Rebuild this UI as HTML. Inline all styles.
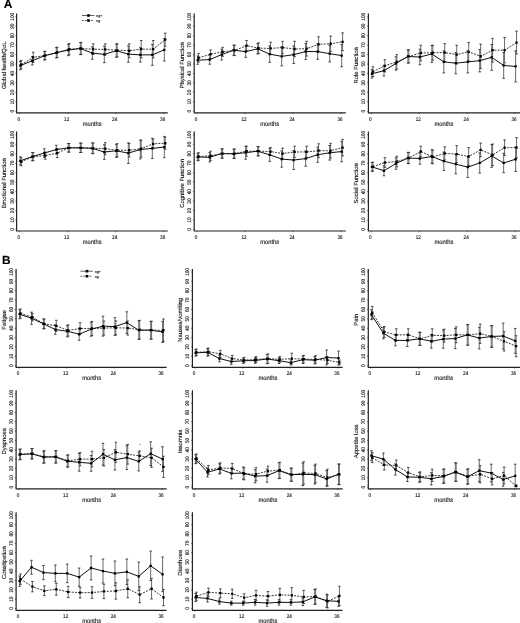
<!DOCTYPE html>
<html><head><meta charset="utf-8"><title>Figure</title>
<style>
html,body{margin:0;padding:0;background:#fff;}
body{width:520px;height:623px;overflow:hidden;}
svg{display:block;will-change:transform;}
text{font-family:"Liberation Sans", sans-serif;fill:#111;text-rendering:geometricPrecision;stroke:#111;stroke-width:0.12px;}
</style></head>
<body>
<svg width="520" height="623" viewBox="0 0 520 623">
<rect width="520" height="623" fill="#fff"/>
<path d="M16.6 13.4V112.9H167.8" fill="none" stroke="#222" stroke-width="1.2"/>
<path d="M15.3 111.2h1.3M15.3 101.76h1.3M15.3 92.32h1.3M15.3 82.88h1.3M15.3 73.44h1.3M15.3 64h1.3M15.3 54.56h1.3M15.3 45.12h1.3M15.3 35.68h1.3M15.3 26.24h1.3M15.3 16.8h1.3M19.7 112.9v1.2M67.7 112.9v1.2M115.7 112.9v1.2M163.7 112.9v1.2" stroke="#222" stroke-width="0.6"/>
<text transform="translate(13.5 111.2) rotate(-90) scale(0.86 1)" text-anchor="middle" font-size="5.4">0</text>
<text transform="translate(13.5 101.76) rotate(-90) scale(0.86 1)" text-anchor="middle" font-size="5.4">10</text>
<text transform="translate(13.5 92.32) rotate(-90) scale(0.86 1)" text-anchor="middle" font-size="5.4">20</text>
<text transform="translate(13.5 82.88) rotate(-90) scale(0.86 1)" text-anchor="middle" font-size="5.4">30</text>
<text transform="translate(13.5 73.44) rotate(-90) scale(0.86 1)" text-anchor="middle" font-size="5.4">40</text>
<text transform="translate(13.5 64) rotate(-90) scale(0.86 1)" text-anchor="middle" font-size="5.4">50</text>
<text transform="translate(13.5 54.56) rotate(-90) scale(0.86 1)" text-anchor="middle" font-size="5.4">60</text>
<text transform="translate(13.5 45.12) rotate(-90) scale(0.86 1)" text-anchor="middle" font-size="5.4">70</text>
<text transform="translate(13.5 35.68) rotate(-90) scale(0.86 1)" text-anchor="middle" font-size="5.4">80</text>
<text transform="translate(13.5 26.24) rotate(-90) scale(0.86 1)" text-anchor="middle" font-size="5.4">90</text>
<text transform="translate(13.5 16.8) rotate(-90) scale(0.86 1)" text-anchor="middle" font-size="5.4">100</text>
<text transform="translate(18.7 120.9) scale(0.86 1)" text-anchor="middle" font-size="5.4">0</text>
<text transform="translate(66.7 120.9) scale(0.86 1)" text-anchor="middle" font-size="5.4">12</text>
<text transform="translate(114.7 120.9) scale(0.86 1)" text-anchor="middle" font-size="5.4">24</text>
<text transform="translate(162.7 120.9) scale(0.86 1)" text-anchor="middle" font-size="5.4">36</text>
<text transform="translate(92.1 125.7) scale(0.9 1)" text-anchor="middle" font-size="6.4">months</text>
<text transform="translate(6.4 65.3) rotate(-90)" text-anchor="middle" font-size="5.9">Global health/QoL</text>
<path d="M20.3 61.51V69.73M21.2 60.48V68.71M32.3 56.55V64.97M33.2 52.25V62.53M44.3 51.59V60.01M45.2 51.22V59.64M56.3 47.67V57.95M57.2 47.2V57.49M68.3 44.4V55.62M69.2 43.55V54.77M80.3 42.43V54.59M81.2 42.43V54.59M92.3 46.92V59.26M93.2 43.83V54.49M104.3 46.17V62.63M105.2 43.83V55.05M116.3 44.21V57.3M117.2 43.74V56.83M128.3 45.98V62.25M129.2 43.83V57.67M140.3 47.67V62.07M141.2 40.56V57.77M152.3 44.4V65.34M153.2 40.56V57.77M164.3 38.6V61.04M165.2 33.18V46.27" stroke="#6a6a6a" stroke-width="1.0" fill="none"/>
<path d="M19.05 61.51h2.5M19.05 69.73h2.5M19.95 60.48h2.5M19.95 68.71h2.5M31.05 56.55h2.5M31.05 64.97h2.5M31.95 52.25h2.5M31.95 62.53h2.5M43.05 51.59h2.5M43.05 60.01h2.5M43.95 51.22h2.5M43.95 59.64h2.5M55.05 47.67h2.5M55.05 57.95h2.5M55.95 47.2h2.5M55.95 57.49h2.5M67.05 44.4h2.5M67.05 55.62h2.5M67.95 43.55h2.5M67.95 54.77h2.5M79.05 42.43h2.5M79.05 54.59h2.5M79.95 42.43h2.5M79.95 54.59h2.5M91.05 46.92h2.5M91.05 59.26h2.5M91.95 43.83h2.5M91.95 54.49h2.5M103.05 46.17h2.5M103.05 62.63h2.5M103.95 43.83h2.5M103.95 55.05h2.5M115.05 44.21h2.5M115.05 57.3h2.5M115.95 43.74h2.5M115.95 56.83h2.5M127.05 45.98h2.5M127.05 62.25h2.5M127.95 43.83h2.5M127.95 57.67h2.5M139.05 47.67h2.5M139.05 62.07h2.5M139.95 40.56h2.5M139.95 57.77h2.5M151.05 44.4h2.5M151.05 65.34h2.5M151.95 40.56h2.5M151.95 57.77h2.5M163.05 38.6h2.5M163.05 61.04h2.5M163.95 33.18h2.5M163.95 46.27h2.5" stroke="#333" stroke-width="0.9" fill="none"/>
<path d="M21.2 64.59L33.2 57.39L45.2 55.43L57.2 52.34L69.2 49.16L81.2 48.51L93.2 49.16L105.2 49.44L117.2 50.29L129.2 50.75L141.2 49.16L153.2 49.16L165.2 39.72" fill="none" stroke="#222" stroke-width="0.9" stroke-dasharray="2,1.2"/>
<path d="M20.3 65.62L32.3 60.76L44.3 55.8L56.3 52.81L68.3 50.01L80.3 48.51L92.3 53.09L104.3 54.4L116.3 50.75L128.3 54.12L140.3 54.87L152.3 54.87L164.3 49.82" fill="none" stroke="#111" stroke-width="1.0"/>
<path d="M19.15 64.47h2.3v2.3h-2.3zM20.05 63.44h2.3v2.3h-2.3zM31.15 59.61h2.3v2.3h-2.3zM32.05 56.24h2.3v2.3h-2.3zM43.15 54.65h2.3v2.3h-2.3zM44.05 54.28h2.3v2.3h-2.3zM55.15 51.66h2.3v2.3h-2.3zM56.05 51.19h2.3v2.3h-2.3zM67.15 48.86h2.3v2.3h-2.3zM68.05 48.01h2.3v2.3h-2.3zM79.15 47.36h2.3v2.3h-2.3zM80.05 47.36h2.3v2.3h-2.3zM91.15 51.94h2.3v2.3h-2.3zM92.05 48.01h2.3v2.3h-2.3zM103.15 53.25h2.3v2.3h-2.3zM104.05 48.29h2.3v2.3h-2.3zM115.15 49.6h2.3v2.3h-2.3zM116.05 49.14h2.3v2.3h-2.3zM127.15 52.97h2.3v2.3h-2.3zM128.05 49.6h2.3v2.3h-2.3zM139.15 53.72h2.3v2.3h-2.3zM140.05 48.01h2.3v2.3h-2.3zM151.15 53.72h2.3v2.3h-2.3zM152.05 48.01h2.3v2.3h-2.3zM163.15 48.67h2.3v2.3h-2.3zM164.05 38.57h2.3v2.3h-2.3z" fill="#000"/>
<path d="M194.2 13.4V112.9H345.8" fill="none" stroke="#222" stroke-width="1.2"/>
<path d="M192.9 111.2h1.3M192.9 101.76h1.3M192.9 92.32h1.3M192.9 82.88h1.3M192.9 73.44h1.3M192.9 64h1.3M192.9 54.56h1.3M192.9 45.12h1.3M192.9 35.68h1.3M192.9 26.24h1.3M192.9 16.8h1.3M197.1 112.9v1.2M245.1 112.9v1.2M293.1 112.9v1.2M341.1 112.9v1.2" stroke="#222" stroke-width="0.6"/>
<text transform="translate(191.1 111.2) rotate(-90) scale(0.86 1)" text-anchor="middle" font-size="5.4">0</text>
<text transform="translate(191.1 101.76) rotate(-90) scale(0.86 1)" text-anchor="middle" font-size="5.4">10</text>
<text transform="translate(191.1 92.32) rotate(-90) scale(0.86 1)" text-anchor="middle" font-size="5.4">20</text>
<text transform="translate(191.1 82.88) rotate(-90) scale(0.86 1)" text-anchor="middle" font-size="5.4">30</text>
<text transform="translate(191.1 73.44) rotate(-90) scale(0.86 1)" text-anchor="middle" font-size="5.4">40</text>
<text transform="translate(191.1 64) rotate(-90) scale(0.86 1)" text-anchor="middle" font-size="5.4">50</text>
<text transform="translate(191.1 54.56) rotate(-90) scale(0.86 1)" text-anchor="middle" font-size="5.4">60</text>
<text transform="translate(191.1 45.12) rotate(-90) scale(0.86 1)" text-anchor="middle" font-size="5.4">70</text>
<text transform="translate(191.1 35.68) rotate(-90) scale(0.86 1)" text-anchor="middle" font-size="5.4">80</text>
<text transform="translate(191.1 26.24) rotate(-90) scale(0.86 1)" text-anchor="middle" font-size="5.4">90</text>
<text transform="translate(191.1 16.8) rotate(-90) scale(0.86 1)" text-anchor="middle" font-size="5.4">100</text>
<text transform="translate(196.1 120.9) scale(0.86 1)" text-anchor="middle" font-size="5.4">0</text>
<text transform="translate(244.1 120.9) scale(0.86 1)" text-anchor="middle" font-size="5.4">12</text>
<text transform="translate(292.1 120.9) scale(0.86 1)" text-anchor="middle" font-size="5.4">24</text>
<text transform="translate(340.1 120.9) scale(0.86 1)" text-anchor="middle" font-size="5.4">36</text>
<text transform="translate(269.7 125.7) scale(0.9 1)" text-anchor="middle" font-size="6.4">months</text>
<text transform="translate(184 65.3) rotate(-90)" text-anchor="middle" font-size="5.9">Physical Function</text>
<path d="M197.7 55.99V64.22M198.6 53.46V62.07M209.7 55.05V64.22M210.6 49.91V58.51M221.7 49.16V60.01M222.6 47.29V56.27M233.7 45.05V55.33M234.6 45.33V55.62M245.7 45.8V57.39M246.6 40.47V50.75M257.7 43.55V54.03M258.6 42.9V53.37M269.7 45.89V62.35M270.6 42.24V54.59M281.7 46.83V65.9M282.6 41.31V53.84M293.7 45.89V63.47M294.6 41.31V56.64M305.7 43.65V59.36M306.6 41.31V56.08M317.7 43.83V59.36M318.6 36.82V51.78M329.7 45.42V61.88M330.6 36.07V51.41M341.7 44.49V66.74M342.6 32.89V50.66" stroke="#6a6a6a" stroke-width="1.0" fill="none"/>
<path d="M196.45 55.99h2.5M196.45 64.22h2.5M197.35 53.46h2.5M197.35 62.07h2.5M208.45 55.05h2.5M208.45 64.22h2.5M209.35 49.91h2.5M209.35 58.51h2.5M220.45 49.16h2.5M220.45 60.01h2.5M221.35 47.29h2.5M221.35 56.27h2.5M232.45 45.05h2.5M232.45 55.33h2.5M233.35 45.33h2.5M233.35 55.62h2.5M244.45 45.8h2.5M244.45 57.39h2.5M245.35 40.47h2.5M245.35 50.75h2.5M256.45 43.55h2.5M256.45 54.03h2.5M257.35 42.9h2.5M257.35 53.37h2.5M268.45 45.89h2.5M268.45 62.35h2.5M269.35 42.24h2.5M269.35 54.59h2.5M280.45 46.83h2.5M280.45 65.9h2.5M281.35 41.31h2.5M281.35 53.84h2.5M292.45 45.89h2.5M292.45 63.47h2.5M293.35 41.31h2.5M293.35 56.64h2.5M304.45 43.65h2.5M304.45 59.36h2.5M305.35 41.31h2.5M305.35 56.08h2.5M316.45 43.83h2.5M316.45 59.36h2.5M317.35 36.82h2.5M317.35 51.78h2.5M328.45 45.42h2.5M328.45 61.88h2.5M329.35 36.07h2.5M329.35 51.41h2.5M340.45 44.49h2.5M340.45 66.74h2.5M341.35 32.89h2.5M341.35 50.66h2.5" stroke="#333" stroke-width="0.9" fill="none"/>
<path d="M198.6 57.77L210.6 54.21L222.6 51.78L234.6 50.47L246.6 45.61L258.6 48.14L270.6 48.42L282.6 47.57L294.6 48.98L306.6 48.7L318.6 44.3L330.6 43.74L342.6 41.78" fill="none" stroke="#222" stroke-width="0.9" stroke-dasharray="2,1.2"/>
<path d="M197.7 60.1L209.7 59.64L221.7 54.59L233.7 50.19L245.7 51.59L257.7 48.79L269.7 54.12L281.7 56.36L293.7 54.68L305.7 51.5L317.7 51.59L329.7 53.65L341.7 55.62" fill="none" stroke="#111" stroke-width="1.0"/>
<path d="M196.55 58.95h2.3v2.3h-2.3zM197.45 56.62h2.3v2.3h-2.3zM208.55 58.49h2.3v2.3h-2.3zM209.45 53.06h2.3v2.3h-2.3zM220.55 53.44h2.3v2.3h-2.3zM221.45 50.63h2.3v2.3h-2.3zM232.55 49.04h2.3v2.3h-2.3zM233.45 49.32h2.3v2.3h-2.3zM244.55 50.45h2.3v2.3h-2.3zM245.45 44.46h2.3v2.3h-2.3zM256.55 47.64h2.3v2.3h-2.3zM257.45 46.99h2.3v2.3h-2.3zM268.55 52.97h2.3v2.3h-2.3zM269.45 47.27h2.3v2.3h-2.3zM280.55 55.21h2.3v2.3h-2.3zM281.45 46.42h2.3v2.3h-2.3zM292.55 53.53h2.3v2.3h-2.3zM293.45 47.83h2.3v2.3h-2.3zM304.55 50.35h2.3v2.3h-2.3zM305.45 47.55h2.3v2.3h-2.3zM316.55 50.45h2.3v2.3h-2.3zM317.45 43.15h2.3v2.3h-2.3zM328.55 52.5h2.3v2.3h-2.3zM329.45 42.59h2.3v2.3h-2.3zM340.55 54.47h2.3v2.3h-2.3zM341.45 40.63h2.3v2.3h-2.3z" fill="#000"/>
<path d="M368.4 13.4V112.9H522" fill="none" stroke="#222" stroke-width="1.2"/>
<path d="M367.1 111.2h1.3M367.1 101.76h1.3M367.1 92.32h1.3M367.1 82.88h1.3M367.1 73.44h1.3M367.1 64h1.3M367.1 54.56h1.3M367.1 45.12h1.3M367.1 35.68h1.3M367.1 26.24h1.3M367.1 16.8h1.3M371.4 112.9v1.2M419.28 112.9v1.2M467.16 112.9v1.2M515.04 112.9v1.2" stroke="#222" stroke-width="0.6"/>
<text transform="translate(365.3 111.2) rotate(-90) scale(0.86 1)" text-anchor="middle" font-size="5.4">0</text>
<text transform="translate(365.3 101.76) rotate(-90) scale(0.86 1)" text-anchor="middle" font-size="5.4">10</text>
<text transform="translate(365.3 92.32) rotate(-90) scale(0.86 1)" text-anchor="middle" font-size="5.4">20</text>
<text transform="translate(365.3 82.88) rotate(-90) scale(0.86 1)" text-anchor="middle" font-size="5.4">30</text>
<text transform="translate(365.3 73.44) rotate(-90) scale(0.86 1)" text-anchor="middle" font-size="5.4">40</text>
<text transform="translate(365.3 64) rotate(-90) scale(0.86 1)" text-anchor="middle" font-size="5.4">50</text>
<text transform="translate(365.3 54.56) rotate(-90) scale(0.86 1)" text-anchor="middle" font-size="5.4">60</text>
<text transform="translate(365.3 45.12) rotate(-90) scale(0.86 1)" text-anchor="middle" font-size="5.4">70</text>
<text transform="translate(365.3 35.68) rotate(-90) scale(0.86 1)" text-anchor="middle" font-size="5.4">80</text>
<text transform="translate(365.3 26.24) rotate(-90) scale(0.86 1)" text-anchor="middle" font-size="5.4">90</text>
<text transform="translate(365.3 16.8) rotate(-90) scale(0.86 1)" text-anchor="middle" font-size="5.4">100</text>
<text transform="translate(370.4 120.9) scale(0.86 1)" text-anchor="middle" font-size="5.4">0</text>
<text transform="translate(418.28 120.9) scale(0.86 1)" text-anchor="middle" font-size="5.4">12</text>
<text transform="translate(466.16 120.9) scale(0.86 1)" text-anchor="middle" font-size="5.4">24</text>
<text transform="translate(514.04 120.9) scale(0.86 1)" text-anchor="middle" font-size="5.4">36</text>
<text transform="translate(443.9 125.7) scale(0.9 1)" text-anchor="middle" font-size="6.4">months</text>
<text transform="translate(358.2 65.3) rotate(-90)" text-anchor="middle" font-size="5.9">Role Function</text>
<path d="M372 69.55V77.96M372.9 66.84V76.56M383.97 65.34V76M384.87 59.73V71.88M395.94 56.83V70.11M396.84 54.68V69.08M407.91 49.91V63M408.81 49.91V63M419.88 49.26V64.78M420.78 45.24V60.76M431.85 45.52V62.35M432.75 45.24V60.2M443.82 50.85V72.91M444.72 43.65V61.41M455.79 52.62V73.75M456.69 45.24V63.94M467.76 50.85V72.91M468.66 42.43V61.13M479.73 49.44V71.88M480.63 44.11V68.42M491.7 44.49V70.29M492.6 38.32V62.07M503.67 52.53V78.34M504.57 37.48V62.91M515.64 50.94V81.98M516.54 31.12V53.93" stroke="#6a6a6a" stroke-width="1.0" fill="none"/>
<path d="M370.75 69.55h2.5M370.75 77.96h2.5M371.65 66.84h2.5M371.65 76.56h2.5M382.72 65.34h2.5M382.72 76h2.5M383.62 59.73h2.5M383.62 71.88h2.5M394.69 56.83h2.5M394.69 70.11h2.5M395.59 54.68h2.5M395.59 69.08h2.5M406.66 49.91h2.5M406.66 63h2.5M407.56 49.91h2.5M407.56 63h2.5M418.63 49.26h2.5M418.63 64.78h2.5M419.53 45.24h2.5M419.53 60.76h2.5M430.6 45.52h2.5M430.6 62.35h2.5M431.5 45.24h2.5M431.5 60.2h2.5M442.57 50.85h2.5M442.57 72.91h2.5M443.47 43.65h2.5M443.47 61.41h2.5M454.54 52.62h2.5M454.54 73.75h2.5M455.44 45.24h2.5M455.44 63.94h2.5M466.51 50.85h2.5M466.51 72.91h2.5M467.41 42.43h2.5M467.41 61.13h2.5M478.48 49.44h2.5M478.48 71.88h2.5M479.38 44.11h2.5M479.38 68.42h2.5M490.45 44.49h2.5M490.45 70.29h2.5M491.35 38.32h2.5M491.35 62.07h2.5M502.42 52.53h2.5M502.42 78.34h2.5M503.32 37.48h2.5M503.32 62.91h2.5M514.39 50.94h2.5M514.39 81.98h2.5M515.29 31.12h2.5M515.29 53.93h2.5" stroke="#333" stroke-width="0.9" fill="none"/>
<path d="M372.9 71.7L384.87 65.81L396.84 61.88L408.81 56.46L420.78 53L432.75 52.72L444.72 52.53L456.69 54.59L468.66 51.78L480.63 56.27L492.6 50.19L504.57 50.19L516.54 42.53" fill="none" stroke="#222" stroke-width="0.9" stroke-dasharray="2,1.2"/>
<path d="M372 73.75L383.97 70.67L395.94 63.47L407.91 56.46L419.88 57.02L431.85 53.93L443.82 61.88L455.79 63.19L467.76 61.88L479.73 60.66L491.7 57.39L503.67 65.43L515.64 66.46" fill="none" stroke="#111" stroke-width="1.0"/>
<path d="M370.85 72.6h2.3v2.3h-2.3zM371.75 70.55h2.3v2.3h-2.3zM382.82 69.52h2.3v2.3h-2.3zM383.72 64.66h2.3v2.3h-2.3zM394.79 62.32h2.3v2.3h-2.3zM395.69 60.73h2.3v2.3h-2.3zM406.76 55.31h2.3v2.3h-2.3zM407.66 55.31h2.3v2.3h-2.3zM418.73 55.87h2.3v2.3h-2.3zM419.63 51.85h2.3v2.3h-2.3zM430.7 52.78h2.3v2.3h-2.3zM431.6 51.57h2.3v2.3h-2.3zM442.67 60.73h2.3v2.3h-2.3zM443.57 51.38h2.3v2.3h-2.3zM454.64 62.04h2.3v2.3h-2.3zM455.54 53.44h2.3v2.3h-2.3zM466.61 60.73h2.3v2.3h-2.3zM467.51 50.63h2.3v2.3h-2.3zM478.58 59.51h2.3v2.3h-2.3zM479.48 55.12h2.3v2.3h-2.3zM490.55 56.24h2.3v2.3h-2.3zM491.45 49.04h2.3v2.3h-2.3zM502.52 64.28h2.3v2.3h-2.3zM503.42 49.04h2.3v2.3h-2.3zM514.49 65.31h2.3v2.3h-2.3zM515.39 41.38h2.3v2.3h-2.3z" fill="#000"/>
<path d="M16.6 131.5V231H167.8" fill="none" stroke="#222" stroke-width="1.2"/>
<path d="M15.3 229.5h1.3M15.3 220.04h1.3M15.3 210.58h1.3M15.3 201.12h1.3M15.3 191.66h1.3M15.3 182.2h1.3M15.3 172.74h1.3M15.3 163.28h1.3M15.3 153.82h1.3M15.3 144.36h1.3M15.3 134.9h1.3M19.7 231v1.2M67.7 231v1.2M115.7 231v1.2M163.7 231v1.2" stroke="#222" stroke-width="0.6"/>
<text transform="translate(13.5 229.5) rotate(-90) scale(0.86 1)" text-anchor="middle" font-size="5.4">0</text>
<text transform="translate(13.5 220.04) rotate(-90) scale(0.86 1)" text-anchor="middle" font-size="5.4">10</text>
<text transform="translate(13.5 210.58) rotate(-90) scale(0.86 1)" text-anchor="middle" font-size="5.4">20</text>
<text transform="translate(13.5 201.12) rotate(-90) scale(0.86 1)" text-anchor="middle" font-size="5.4">30</text>
<text transform="translate(13.5 191.66) rotate(-90) scale(0.86 1)" text-anchor="middle" font-size="5.4">40</text>
<text transform="translate(13.5 182.2) rotate(-90) scale(0.86 1)" text-anchor="middle" font-size="5.4">50</text>
<text transform="translate(13.5 172.74) rotate(-90) scale(0.86 1)" text-anchor="middle" font-size="5.4">60</text>
<text transform="translate(13.5 163.28) rotate(-90) scale(0.86 1)" text-anchor="middle" font-size="5.4">70</text>
<text transform="translate(13.5 153.82) rotate(-90) scale(0.86 1)" text-anchor="middle" font-size="5.4">80</text>
<text transform="translate(13.5 144.36) rotate(-90) scale(0.86 1)" text-anchor="middle" font-size="5.4">90</text>
<text transform="translate(13.5 134.9) rotate(-90) scale(0.86 1)" text-anchor="middle" font-size="5.4">100</text>
<text transform="translate(18.7 239) scale(0.86 1)" text-anchor="middle" font-size="5.4">0</text>
<text transform="translate(66.7 239) scale(0.86 1)" text-anchor="middle" font-size="5.4">12</text>
<text transform="translate(114.7 239) scale(0.86 1)" text-anchor="middle" font-size="5.4">24</text>
<text transform="translate(162.7 239) scale(0.86 1)" text-anchor="middle" font-size="5.4">36</text>
<text transform="translate(92.1 243.8) scale(0.9 1)" text-anchor="middle" font-size="6.4">months</text>
<text transform="translate(6.4 183.4) rotate(-90)" text-anchor="middle" font-size="5.9">Emotional Function</text>
<path d="M20.3 156.8V164.84M21.2 157.73V165.77M32.3 152.5V160.73M33.2 152.5V160.73M44.3 148.76V157.36M45.2 151.94V159.23M56.3 145.3V153.9M57.2 148.48V157.64M68.3 143.52V152.12M69.2 143.52V152.12M80.3 143.15V152.5M81.2 143.15V152.5M92.3 142.96V153.62M93.2 142.96V153.62M104.3 144.74V159.32M105.2 142.68V154.65M116.3 144.27V157.36M117.2 143.71V156.8M128.3 142.87V163.44M129.2 143.52V156.99M140.3 140.16V158.86M141.2 140.25V157.08M152.3 138.29V158.48M153.2 138.94V148.66M164.3 136.42V157.73M165.2 137.26V149.22" stroke="#6a6a6a" stroke-width="1.0" fill="none"/>
<path d="M19.05 156.8h2.5M19.05 164.84h2.5M19.95 157.73h2.5M19.95 165.77h2.5M31.05 152.5h2.5M31.05 160.73h2.5M31.95 152.5h2.5M31.95 160.73h2.5M43.05 148.76h2.5M43.05 157.36h2.5M43.95 151.94h2.5M43.95 159.23h2.5M55.05 145.3h2.5M55.05 153.9h2.5M55.95 148.48h2.5M55.95 157.64h2.5M67.05 143.52h2.5M67.05 152.12h2.5M67.95 143.52h2.5M67.95 152.12h2.5M79.05 143.15h2.5M79.05 152.5h2.5M79.95 143.15h2.5M79.95 152.5h2.5M91.05 142.96h2.5M91.05 153.62h2.5M91.95 142.96h2.5M91.95 153.62h2.5M103.05 144.74h2.5M103.05 159.32h2.5M103.95 142.68h2.5M103.95 154.65h2.5M115.05 144.27h2.5M115.05 157.36h2.5M115.95 143.71h2.5M115.95 156.8h2.5M127.05 142.87h2.5M127.05 163.44h2.5M127.95 143.52h2.5M127.95 156.99h2.5M139.05 140.16h2.5M139.05 158.86h2.5M139.95 140.25h2.5M139.95 157.08h2.5M151.05 138.29h2.5M151.05 158.48h2.5M151.95 138.94h2.5M151.95 148.66h2.5M163.05 136.42h2.5M163.05 157.73h2.5M163.95 137.26h2.5M163.95 149.22h2.5" stroke="#333" stroke-width="0.9" fill="none"/>
<path d="M21.2 161.75L33.2 156.61L45.2 155.58L57.2 153.06L69.2 147.82L81.2 147.82L93.2 148.29L105.2 148.66L117.2 150.25L129.2 150.25L141.2 148.66L153.2 143.8L165.2 143.24" fill="none" stroke="#222" stroke-width="0.9" stroke-dasharray="2,1.2"/>
<path d="M20.3 160.82L32.3 156.61L44.3 153.06L56.3 149.6L68.3 147.82L80.3 147.82L92.3 148.29L104.3 152.03L116.3 150.81L128.3 153.15L140.3 149.51L152.3 148.38L164.3 147.07" fill="none" stroke="#111" stroke-width="1.0"/>
<path d="M19.15 159.67h2.3v2.3h-2.3zM20.05 160.6h2.3v2.3h-2.3zM31.15 155.46h2.3v2.3h-2.3zM32.05 155.46h2.3v2.3h-2.3zM43.15 151.91h2.3v2.3h-2.3zM44.05 154.43h2.3v2.3h-2.3zM55.15 148.45h2.3v2.3h-2.3zM56.05 151.91h2.3v2.3h-2.3zM67.15 146.67h2.3v2.3h-2.3zM68.05 146.67h2.3v2.3h-2.3zM79.15 146.67h2.3v2.3h-2.3zM80.05 146.67h2.3v2.3h-2.3zM91.15 147.14h2.3v2.3h-2.3zM92.05 147.14h2.3v2.3h-2.3zM103.15 150.88h2.3v2.3h-2.3zM104.05 147.51h2.3v2.3h-2.3zM115.15 149.66h2.3v2.3h-2.3zM116.05 149.1h2.3v2.3h-2.3zM127.15 152h2.3v2.3h-2.3zM128.05 149.1h2.3v2.3h-2.3zM139.15 148.36h2.3v2.3h-2.3zM140.05 147.51h2.3v2.3h-2.3zM151.15 147.23h2.3v2.3h-2.3zM152.05 142.65h2.3v2.3h-2.3zM163.15 145.92h2.3v2.3h-2.3zM164.05 142.09h2.3v2.3h-2.3z" fill="#000"/>
<path d="M194.2 131.5V231H345.8" fill="none" stroke="#222" stroke-width="1.2"/>
<path d="M192.9 229.5h1.3M192.9 220.04h1.3M192.9 210.58h1.3M192.9 201.12h1.3M192.9 191.66h1.3M192.9 182.2h1.3M192.9 172.74h1.3M192.9 163.28h1.3M192.9 153.82h1.3M192.9 144.36h1.3M192.9 134.9h1.3M197.1 231v1.2M245.1 231v1.2M293.1 231v1.2M341.1 231v1.2" stroke="#222" stroke-width="0.6"/>
<text transform="translate(191.1 229.5) rotate(-90) scale(0.86 1)" text-anchor="middle" font-size="5.4">0</text>
<text transform="translate(191.1 220.04) rotate(-90) scale(0.86 1)" text-anchor="middle" font-size="5.4">10</text>
<text transform="translate(191.1 210.58) rotate(-90) scale(0.86 1)" text-anchor="middle" font-size="5.4">20</text>
<text transform="translate(191.1 201.12) rotate(-90) scale(0.86 1)" text-anchor="middle" font-size="5.4">30</text>
<text transform="translate(191.1 191.66) rotate(-90) scale(0.86 1)" text-anchor="middle" font-size="5.4">40</text>
<text transform="translate(191.1 182.2) rotate(-90) scale(0.86 1)" text-anchor="middle" font-size="5.4">50</text>
<text transform="translate(191.1 172.74) rotate(-90) scale(0.86 1)" text-anchor="middle" font-size="5.4">60</text>
<text transform="translate(191.1 163.28) rotate(-90) scale(0.86 1)" text-anchor="middle" font-size="5.4">70</text>
<text transform="translate(191.1 153.82) rotate(-90) scale(0.86 1)" text-anchor="middle" font-size="5.4">80</text>
<text transform="translate(191.1 144.36) rotate(-90) scale(0.86 1)" text-anchor="middle" font-size="5.4">90</text>
<text transform="translate(191.1 134.9) rotate(-90) scale(0.86 1)" text-anchor="middle" font-size="5.4">100</text>
<text transform="translate(196.1 239) scale(0.86 1)" text-anchor="middle" font-size="5.4">0</text>
<text transform="translate(244.1 239) scale(0.86 1)" text-anchor="middle" font-size="5.4">12</text>
<text transform="translate(292.1 239) scale(0.86 1)" text-anchor="middle" font-size="5.4">24</text>
<text transform="translate(340.1 239) scale(0.86 1)" text-anchor="middle" font-size="5.4">36</text>
<text transform="translate(269.7 243.8) scale(0.9 1)" text-anchor="middle" font-size="6.4">months</text>
<text transform="translate(184 183.4) rotate(-90)" text-anchor="middle" font-size="5.9">Cognitive Function</text>
<path d="M197.7 153.25V160.73M198.6 152.78V160.26M209.7 152.59V161.94M210.6 151.19V160.35M221.7 148.85V158.2M222.6 148.85V158.2M233.7 149.22V158.57M234.6 148.85V158.2M245.7 146.14V159.23M246.6 146.23V156.14M257.7 146.51V155.86M258.6 146.51V155.86M269.7 148.29V161.38M270.6 147.64V155.49M281.7 150.91V167.18M282.6 148.2V158.86M293.7 150.63V169.51M294.6 146.23V157.64M305.7 150.91V166.24M306.6 146.23V157.64M317.7 147.17V162.31M318.6 143.8V157.64M329.7 145.48V160.07M330.6 143.33V158.11M341.7 141.37V161.75M342.6 139.41V155.86" stroke="#6a6a6a" stroke-width="1.0" fill="none"/>
<path d="M196.45 153.25h2.5M196.45 160.73h2.5M197.35 152.78h2.5M197.35 160.26h2.5M208.45 152.59h2.5M208.45 161.94h2.5M209.35 151.19h2.5M209.35 160.35h2.5M220.45 148.85h2.5M220.45 158.2h2.5M221.35 148.85h2.5M221.35 158.2h2.5M232.45 149.22h2.5M232.45 158.57h2.5M233.35 148.85h2.5M233.35 158.2h2.5M244.45 146.14h2.5M244.45 159.23h2.5M245.35 146.23h2.5M245.35 156.14h2.5M256.45 146.51h2.5M256.45 155.86h2.5M257.35 146.51h2.5M257.35 155.86h2.5M268.45 148.29h2.5M268.45 161.38h2.5M269.35 147.64h2.5M269.35 155.49h2.5M280.45 150.91h2.5M280.45 167.18h2.5M281.35 148.2h2.5M281.35 158.86h2.5M292.45 150.63h2.5M292.45 169.51h2.5M293.35 146.23h2.5M293.35 157.64h2.5M304.45 150.91h2.5M304.45 166.24h2.5M305.35 146.23h2.5M305.35 157.64h2.5M316.45 147.17h2.5M316.45 162.31h2.5M317.35 143.8h2.5M317.35 157.64h2.5M328.45 145.48h2.5M328.45 160.07h2.5M329.35 143.33h2.5M329.35 158.11h2.5M340.45 141.37h2.5M340.45 161.75h2.5M341.35 139.41h2.5M341.35 155.86h2.5" stroke="#333" stroke-width="0.9" fill="none"/>
<path d="M198.6 156.52L210.6 155.77L222.6 153.53L234.6 153.53L246.6 151.19L258.6 151.19L270.6 151.56L282.6 153.53L294.6 151.94L306.6 151.94L318.6 150.72L330.6 150.72L342.6 147.64" fill="none" stroke="#222" stroke-width="0.9" stroke-dasharray="2,1.2"/>
<path d="M197.7 156.99L209.7 157.27L221.7 153.53L233.7 153.9L245.7 152.68L257.7 151.19L269.7 154.83L281.7 159.04L293.7 160.07L305.7 158.57L317.7 154.74L329.7 152.78L341.7 151.56" fill="none" stroke="#111" stroke-width="1.0"/>
<path d="M196.55 155.84h2.3v2.3h-2.3zM197.45 155.37h2.3v2.3h-2.3zM208.55 156.12h2.3v2.3h-2.3zM209.45 154.62h2.3v2.3h-2.3zM220.55 152.38h2.3v2.3h-2.3zM221.45 152.38h2.3v2.3h-2.3zM232.55 152.75h2.3v2.3h-2.3zM233.45 152.38h2.3v2.3h-2.3zM244.55 151.53h2.3v2.3h-2.3zM245.45 150.04h2.3v2.3h-2.3zM256.55 150.04h2.3v2.3h-2.3zM257.45 150.04h2.3v2.3h-2.3zM268.55 153.68h2.3v2.3h-2.3zM269.45 150.41h2.3v2.3h-2.3zM280.55 157.89h2.3v2.3h-2.3zM281.45 152.38h2.3v2.3h-2.3zM292.55 158.92h2.3v2.3h-2.3zM293.45 150.79h2.3v2.3h-2.3zM304.55 157.42h2.3v2.3h-2.3zM305.45 150.79h2.3v2.3h-2.3zM316.55 153.59h2.3v2.3h-2.3zM317.45 149.57h2.3v2.3h-2.3zM328.55 151.63h2.3v2.3h-2.3zM329.45 149.57h2.3v2.3h-2.3zM340.55 150.41h2.3v2.3h-2.3zM341.45 146.49h2.3v2.3h-2.3z" fill="#000"/>
<path d="M368.4 131.5V231H522" fill="none" stroke="#222" stroke-width="1.2"/>
<path d="M367.1 229.5h1.3M367.1 220.04h1.3M367.1 210.58h1.3M367.1 201.12h1.3M367.1 191.66h1.3M367.1 182.2h1.3M367.1 172.74h1.3M367.1 163.28h1.3M367.1 153.82h1.3M367.1 144.36h1.3M367.1 134.9h1.3M371.4 231v1.2M419.28 231v1.2M467.16 231v1.2M515.04 231v1.2" stroke="#222" stroke-width="0.6"/>
<text transform="translate(365.3 229.5) rotate(-90) scale(0.86 1)" text-anchor="middle" font-size="5.4">0</text>
<text transform="translate(365.3 220.04) rotate(-90) scale(0.86 1)" text-anchor="middle" font-size="5.4">10</text>
<text transform="translate(365.3 210.58) rotate(-90) scale(0.86 1)" text-anchor="middle" font-size="5.4">20</text>
<text transform="translate(365.3 201.12) rotate(-90) scale(0.86 1)" text-anchor="middle" font-size="5.4">30</text>
<text transform="translate(365.3 191.66) rotate(-90) scale(0.86 1)" text-anchor="middle" font-size="5.4">40</text>
<text transform="translate(365.3 182.2) rotate(-90) scale(0.86 1)" text-anchor="middle" font-size="5.4">50</text>
<text transform="translate(365.3 172.74) rotate(-90) scale(0.86 1)" text-anchor="middle" font-size="5.4">60</text>
<text transform="translate(365.3 163.28) rotate(-90) scale(0.86 1)" text-anchor="middle" font-size="5.4">70</text>
<text transform="translate(365.3 153.82) rotate(-90) scale(0.86 1)" text-anchor="middle" font-size="5.4">80</text>
<text transform="translate(365.3 144.36) rotate(-90) scale(0.86 1)" text-anchor="middle" font-size="5.4">90</text>
<text transform="translate(365.3 134.9) rotate(-90) scale(0.86 1)" text-anchor="middle" font-size="5.4">100</text>
<text transform="translate(370.4 239) scale(0.86 1)" text-anchor="middle" font-size="5.4">0</text>
<text transform="translate(418.28 239) scale(0.86 1)" text-anchor="middle" font-size="5.4">12</text>
<text transform="translate(466.16 239) scale(0.86 1)" text-anchor="middle" font-size="5.4">24</text>
<text transform="translate(514.04 239) scale(0.86 1)" text-anchor="middle" font-size="5.4">36</text>
<text transform="translate(443.9 243.8) scale(0.9 1)" text-anchor="middle" font-size="6.4">months</text>
<text transform="translate(358.2 183.4) rotate(-90)" text-anchor="middle" font-size="5.9">Social Function</text>
<path d="M372 162.5V171.29M372.9 162.22V171.01M383.97 165.68V175.78M384.87 157.73V167.46M395.94 157.83V169.23M396.84 156.24V166.9M407.91 152.4V163.62M408.81 152.4V163.62M419.88 152.78V164.19M420.78 146.23V156.7M431.85 149.69V163.34M432.75 150.07V163.72M443.82 152.03V170.36M444.72 146.89V159.98M455.79 154.55V173.82M456.69 145.67V162.5M467.76 156.7V177.46M468.66 147.64V165.4M479.73 152.87V173.07M480.63 143.05V156.7M491.7 144.64V167.27M492.6 144.08V165.59M503.67 153.25V172.69M504.57 139.88V155.4M515.64 146.98V171.48M516.54 137.63V157.64" stroke="#6a6a6a" stroke-width="1.0" fill="none"/>
<path d="M370.75 162.5h2.5M370.75 171.29h2.5M371.65 162.22h2.5M371.65 171.01h2.5M382.72 165.68h2.5M382.72 175.78h2.5M383.62 157.73h2.5M383.62 167.46h2.5M394.69 157.83h2.5M394.69 169.23h2.5M395.59 156.24h2.5M395.59 166.9h2.5M406.66 152.4h2.5M406.66 163.62h2.5M407.56 152.4h2.5M407.56 163.62h2.5M418.63 152.78h2.5M418.63 164.19h2.5M419.53 146.23h2.5M419.53 156.7h2.5M430.6 149.69h2.5M430.6 163.34h2.5M431.5 150.07h2.5M431.5 163.72h2.5M442.57 152.03h2.5M442.57 170.36h2.5M443.47 146.89h2.5M443.47 159.98h2.5M454.54 154.55h2.5M454.54 173.82h2.5M455.44 145.67h2.5M455.44 162.5h2.5M466.51 156.7h2.5M466.51 177.46h2.5M467.41 147.64h2.5M467.41 165.4h2.5M478.48 152.87h2.5M478.48 173.07h2.5M479.38 143.05h2.5M479.38 156.7h2.5M490.45 144.64h2.5M490.45 167.27h2.5M491.35 144.08h2.5M491.35 165.59h2.5M502.42 153.25h2.5M502.42 172.69h2.5M503.32 139.88h2.5M503.32 155.4h2.5M514.39 146.98h2.5M514.39 171.48h2.5M515.29 137.63h2.5M515.29 157.64h2.5" stroke="#333" stroke-width="0.9" fill="none"/>
<path d="M372.9 166.62L384.87 162.6L396.84 161.57L408.81 158.01L420.78 151.47L432.75 156.89L444.72 153.43L456.69 154.09L468.66 156.52L480.63 149.88L492.6 154.83L504.57 147.64L516.54 147.64" fill="none" stroke="#222" stroke-width="0.9" stroke-dasharray="2,1.2"/>
<path d="M372 166.9L383.97 170.73L395.94 163.53L407.91 158.01L419.88 158.48L431.85 156.52L443.82 161.19L455.79 164.19L467.76 167.08L479.73 162.97L491.7 155.96L503.67 162.97L515.64 159.23" fill="none" stroke="#111" stroke-width="1.0"/>
<path d="M370.85 165.75h2.3v2.3h-2.3zM371.75 165.47h2.3v2.3h-2.3zM382.82 169.58h2.3v2.3h-2.3zM383.72 161.45h2.3v2.3h-2.3zM394.79 162.38h2.3v2.3h-2.3zM395.69 160.42h2.3v2.3h-2.3zM406.76 156.86h2.3v2.3h-2.3zM407.66 156.86h2.3v2.3h-2.3zM418.73 157.33h2.3v2.3h-2.3zM419.63 150.32h2.3v2.3h-2.3zM430.7 155.37h2.3v2.3h-2.3zM431.6 155.74h2.3v2.3h-2.3zM442.67 160.04h2.3v2.3h-2.3zM443.57 152.28h2.3v2.3h-2.3zM454.64 163.03h2.3v2.3h-2.3zM455.54 152.94h2.3v2.3h-2.3zM466.61 165.93h2.3v2.3h-2.3zM467.51 155.37h2.3v2.3h-2.3zM478.58 161.82h2.3v2.3h-2.3zM479.48 148.73h2.3v2.3h-2.3zM490.55 154.81h2.3v2.3h-2.3zM491.45 153.68h2.3v2.3h-2.3zM502.52 161.82h2.3v2.3h-2.3zM503.42 146.49h2.3v2.3h-2.3zM514.49 158.08h2.3v2.3h-2.3zM515.39 146.49h2.3v2.3h-2.3z" fill="#000"/>
<path d="M16.1 269V367.4H166.6" fill="none" stroke="#222" stroke-width="1.2"/>
<path d="M14.8 365.8h1.3M14.8 356.42h1.3M14.8 347.04h1.3M14.8 337.66h1.3M14.8 328.28h1.3M14.8 318.9h1.3M14.8 309.52h1.3M14.8 300.14h1.3M14.8 290.76h1.3M14.8 281.38h1.3M14.8 272h1.3M19 367.4v1.2M66.66 367.4v1.2M114.33 367.4v1.2M161.99 367.4v1.2" stroke="#222" stroke-width="0.6"/>
<text transform="translate(13 365.8) rotate(-90) scale(0.86 1)" text-anchor="middle" font-size="5.4">0</text>
<text transform="translate(13 356.42) rotate(-90) scale(0.86 1)" text-anchor="middle" font-size="5.4">10</text>
<text transform="translate(13 347.04) rotate(-90) scale(0.86 1)" text-anchor="middle" font-size="5.4">20</text>
<text transform="translate(13 337.66) rotate(-90) scale(0.86 1)" text-anchor="middle" font-size="5.4">30</text>
<text transform="translate(13 328.28) rotate(-90) scale(0.86 1)" text-anchor="middle" font-size="5.4">40</text>
<text transform="translate(13 318.9) rotate(-90) scale(0.86 1)" text-anchor="middle" font-size="5.4">50</text>
<text transform="translate(13 309.52) rotate(-90) scale(0.86 1)" text-anchor="middle" font-size="5.4">60</text>
<text transform="translate(13 300.14) rotate(-90) scale(0.86 1)" text-anchor="middle" font-size="5.4">70</text>
<text transform="translate(13 290.76) rotate(-90) scale(0.86 1)" text-anchor="middle" font-size="5.4">80</text>
<text transform="translate(13 281.38) rotate(-90) scale(0.86 1)" text-anchor="middle" font-size="5.4">90</text>
<text transform="translate(13 272) rotate(-90) scale(0.86 1)" text-anchor="middle" font-size="5.4">100</text>
<text transform="translate(18 375.4) scale(0.86 1)" text-anchor="middle" font-size="5.4">0</text>
<text transform="translate(65.66 375.4) scale(0.86 1)" text-anchor="middle" font-size="5.4">12</text>
<text transform="translate(113.33 375.4) scale(0.86 1)" text-anchor="middle" font-size="5.4">24</text>
<text transform="translate(160.99 375.4) scale(0.86 1)" text-anchor="middle" font-size="5.4">36</text>
<text transform="translate(91.6 380.2) scale(0.9 1)" text-anchor="middle" font-size="6.4">months</text>
<text transform="translate(5.9 319.8) rotate(-90)" text-anchor="middle" font-size="5.9">Fatigue</text>
<path d="M19.6 309.73V318.71M20.5 308.99V317.96M31.52 312.17V324.32M32.42 313.47V320.95M43.43 318.99V328.72M44.33 318.99V328.72M55.35 324.88V334.23M56.25 320.3V331.33M67.26 325.63V336.85M68.16 324.88V336.1M79.18 328.15V340.31M80.08 322.82V334.23M91.1 322.17V336.2M92 321.42V335.45M103.01 316.28V336.1M103.91 321.05V335.07M114.93 317.68V335.45M115.83 320.86V334.7M126.84 311.79V333.48M127.74 321.05V335.07M138.76 320.86V339.56M139.66 320.39V339.09M150.68 321.33V339.09M151.58 321.33V339.09M162.59 321.33V342.46M163.49 318.99V341.43" stroke="#6a6a6a" stroke-width="1.0" fill="none"/>
<path d="M18.35 309.73h2.5M18.35 318.71h2.5M19.25 308.99h2.5M19.25 317.96h2.5M30.27 312.17h2.5M30.27 324.32h2.5M31.17 313.47h2.5M31.17 320.95h2.5M42.18 318.99h2.5M42.18 328.72h2.5M43.08 318.99h2.5M43.08 328.72h2.5M54.1 324.88h2.5M54.1 334.23h2.5M55 320.3h2.5M55 331.33h2.5M66.01 325.63h2.5M66.01 336.85h2.5M66.91 324.88h2.5M66.91 336.1h2.5M77.93 328.15h2.5M77.93 340.31h2.5M78.83 322.82h2.5M78.83 334.23h2.5M89.85 322.17h2.5M89.85 336.2h2.5M90.75 321.42h2.5M90.75 335.45h2.5M101.76 316.28h2.5M101.76 336.1h2.5M102.66 321.05h2.5M102.66 335.07h2.5M113.68 317.68h2.5M113.68 335.45h2.5M114.58 320.86h2.5M114.58 334.7h2.5M125.59 311.79h2.5M125.59 333.48h2.5M126.49 321.05h2.5M126.49 335.07h2.5M137.51 320.86h2.5M137.51 339.56h2.5M138.41 320.39h2.5M138.41 339.09h2.5M149.43 321.33h2.5M149.43 339.09h2.5M150.33 321.33h2.5M150.33 339.09h2.5M161.34 321.33h2.5M161.34 342.46h2.5M162.24 318.99h2.5M162.24 341.43h2.5" stroke="#333" stroke-width="0.9" fill="none"/>
<path d="M20.5 313.47L32.42 317.21L44.33 323.85L56.25 325.82L68.16 330.49L80.08 328.53L92 328.43L103.91 328.06L115.83 327.78L127.74 328.06L139.66 329.74L151.58 330.21L163.49 330.21" fill="none" stroke="#222" stroke-width="0.9" stroke-dasharray="2,1.2"/>
<path d="M19.6 314.22L31.52 318.24L43.43 323.85L55.35 329.56L67.26 331.24L79.18 334.23L91.1 329.18L103.01 326.19L114.93 326.56L126.84 322.64L138.76 330.21L150.68 330.21L162.59 331.89" fill="none" stroke="#111" stroke-width="1.0"/>
<path d="M18.45 313.07h2.3v2.3h-2.3zM19.35 312.32h2.3v2.3h-2.3zM30.37 317.09h2.3v2.3h-2.3zM31.27 316.06h2.3v2.3h-2.3zM42.28 322.7h2.3v2.3h-2.3zM43.18 322.7h2.3v2.3h-2.3zM54.2 328.41h2.3v2.3h-2.3zM55.1 324.67h2.3v2.3h-2.3zM66.11 330.09h2.3v2.3h-2.3zM67.01 329.34h2.3v2.3h-2.3zM78.03 333.08h2.3v2.3h-2.3zM78.93 327.38h2.3v2.3h-2.3zM89.95 328.03h2.3v2.3h-2.3zM90.85 327.28h2.3v2.3h-2.3zM101.86 325.04h2.3v2.3h-2.3zM102.76 326.91h2.3v2.3h-2.3zM113.78 325.42h2.3v2.3h-2.3zM114.68 326.63h2.3v2.3h-2.3zM125.69 321.49h2.3v2.3h-2.3zM126.59 326.91h2.3v2.3h-2.3zM137.61 329.06h2.3v2.3h-2.3zM138.51 328.59h2.3v2.3h-2.3zM149.53 329.06h2.3v2.3h-2.3zM150.43 329.06h2.3v2.3h-2.3zM161.44 330.74h2.3v2.3h-2.3zM162.34 329.06h2.3v2.3h-2.3z" fill="#000"/>
<path d="M192.4 269V367.4H342.6" fill="none" stroke="#222" stroke-width="1.2"/>
<path d="M191.1 365.8h1.3M191.1 356.42h1.3M191.1 347.04h1.3M191.1 337.66h1.3M191.1 328.28h1.3M191.1 318.9h1.3M191.1 309.52h1.3M191.1 300.14h1.3M191.1 290.76h1.3M191.1 281.38h1.3M191.1 272h1.3M195 367.4v1.2M242.64 367.4v1.2M290.28 367.4v1.2M337.92 367.4v1.2" stroke="#222" stroke-width="0.6"/>
<text transform="translate(189.3 365.8) rotate(-90) scale(0.86 1)" text-anchor="middle" font-size="5.4">0</text>
<text transform="translate(189.3 356.42) rotate(-90) scale(0.86 1)" text-anchor="middle" font-size="5.4">10</text>
<text transform="translate(189.3 347.04) rotate(-90) scale(0.86 1)" text-anchor="middle" font-size="5.4">20</text>
<text transform="translate(189.3 337.66) rotate(-90) scale(0.86 1)" text-anchor="middle" font-size="5.4">30</text>
<text transform="translate(189.3 328.28) rotate(-90) scale(0.86 1)" text-anchor="middle" font-size="5.4">40</text>
<text transform="translate(189.3 318.9) rotate(-90) scale(0.86 1)" text-anchor="middle" font-size="5.4">50</text>
<text transform="translate(189.3 309.52) rotate(-90) scale(0.86 1)" text-anchor="middle" font-size="5.4">60</text>
<text transform="translate(189.3 300.14) rotate(-90) scale(0.86 1)" text-anchor="middle" font-size="5.4">70</text>
<text transform="translate(189.3 290.76) rotate(-90) scale(0.86 1)" text-anchor="middle" font-size="5.4">80</text>
<text transform="translate(189.3 281.38) rotate(-90) scale(0.86 1)" text-anchor="middle" font-size="5.4">90</text>
<text transform="translate(189.3 272) rotate(-90) scale(0.86 1)" text-anchor="middle" font-size="5.4">100</text>
<text transform="translate(194 375.4) scale(0.86 1)" text-anchor="middle" font-size="5.4">0</text>
<text transform="translate(241.64 375.4) scale(0.86 1)" text-anchor="middle" font-size="5.4">12</text>
<text transform="translate(289.28 375.4) scale(0.86 1)" text-anchor="middle" font-size="5.4">24</text>
<text transform="translate(336.92 375.4) scale(0.86 1)" text-anchor="middle" font-size="5.4">36</text>
<text transform="translate(267.9 380.2) scale(0.9 1)" text-anchor="middle" font-size="6.4">months</text>
<text transform="translate(182.2 319.8) rotate(-90)" text-anchor="middle" font-size="5.9">Nausea/vomiting</text>
<path d="M195.6 349.57V356.11M196.5 349V355.55M207.51 348.54V356.02M208.41 348.07V355.55M219.42 355.27V361.81M220.32 350.31V357.42M231.33 358.73V364.34M232.23 355.36V361.72M243.24 358.17V363.4M244.14 357.42V362.66M255.15 357.7V363.31M256.05 356.67V362.28M267.06 354.33V363.68M267.96 353.96V363.31M278.97 357.89V363.5M279.87 356.58V362.19M290.88 359.85V364.9M291.78 353.21V364.06M302.79 355.92V363.4M303.69 355.36V362.84M314.7 356.48V363.96M315.6 355.64V363.12M326.61 350.03V364.9M327.51 356.95V363.5M338.52 351.16V364.9M339.42 360.04V364.71" stroke="#6a6a6a" stroke-width="1.0" fill="none"/>
<path d="M194.35 349.57h2.5M194.35 356.11h2.5M195.25 349h2.5M195.25 355.55h2.5M206.26 348.54h2.5M206.26 356.02h2.5M207.16 348.07h2.5M207.16 355.55h2.5M218.17 355.27h2.5M218.17 361.81h2.5M219.07 350.31h2.5M219.07 357.42h2.5M230.08 358.73h2.5M230.08 364.34h2.5M230.98 355.36h2.5M230.98 361.72h2.5M241.99 358.17h2.5M241.99 363.4h2.5M242.89 357.42h2.5M242.89 362.66h2.5M253.9 357.7h2.5M253.9 363.31h2.5M254.8 356.67h2.5M254.8 362.28h2.5M265.81 354.33h2.5M265.81 363.68h2.5M266.71 353.96h2.5M266.71 363.31h2.5M277.72 357.89h2.5M277.72 363.5h2.5M278.62 356.58h2.5M278.62 362.19h2.5M289.63 359.85h2.5M289.63 364.9h2.5M290.53 353.21h2.5M290.53 364.06h2.5M301.54 355.92h2.5M301.54 363.4h2.5M302.44 355.36h2.5M302.44 362.84h2.5M313.45 356.48h2.5M313.45 363.96h2.5M314.35 355.64h2.5M314.35 363.12h2.5M325.36 350.03h2.5M325.36 364.9h2.5M326.26 356.95h2.5M326.26 363.5h2.5M337.27 351.16h2.5M337.27 364.9h2.5M338.17 360.04h2.5M338.17 364.71h2.5" stroke="#333" stroke-width="0.9" fill="none"/>
<path d="M196.5 352.28L208.41 351.81L220.32 353.87L232.23 358.54L244.14 360.04L256.05 359.48L267.96 358.64L279.87 359.38L291.78 358.64L303.69 359.1L315.6 359.38L327.51 360.22L339.42 362.38" fill="none" stroke="#222" stroke-width="0.9" stroke-dasharray="2,1.2"/>
<path d="M195.6 352.84L207.51 352.28L219.42 358.54L231.33 361.53L243.24 360.79L255.15 360.51L267.06 359.01L278.97 360.69L290.88 362.66L302.79 359.66L314.7 360.22L326.61 357.51L338.52 358.07" fill="none" stroke="#111" stroke-width="1.0"/>
<path d="M194.45 351.69h2.3v2.3h-2.3zM195.35 351.13h2.3v2.3h-2.3zM206.36 351.13h2.3v2.3h-2.3zM207.26 350.66h2.3v2.3h-2.3zM218.27 357.39h2.3v2.3h-2.3zM219.17 352.72h2.3v2.3h-2.3zM230.18 360.38h2.3v2.3h-2.3zM231.08 357.39h2.3v2.3h-2.3zM242.09 359.64h2.3v2.3h-2.3zM242.99 358.89h2.3v2.3h-2.3zM254 359.36h2.3v2.3h-2.3zM254.9 358.33h2.3v2.3h-2.3zM265.91 357.86h2.3v2.3h-2.3zM266.81 357.49h2.3v2.3h-2.3zM277.82 359.54h2.3v2.3h-2.3zM278.72 358.23h2.3v2.3h-2.3zM289.73 361.51h2.3v2.3h-2.3zM290.63 357.49h2.3v2.3h-2.3zM301.64 358.51h2.3v2.3h-2.3zM302.54 357.95h2.3v2.3h-2.3zM313.55 359.07h2.3v2.3h-2.3zM314.45 358.23h2.3v2.3h-2.3zM325.46 356.36h2.3v2.3h-2.3zM326.36 359.07h2.3v2.3h-2.3zM337.37 356.92h2.3v2.3h-2.3zM338.27 361.23h2.3v2.3h-2.3z" fill="#000"/>
<path d="M368.3 269V367.4H522" fill="none" stroke="#222" stroke-width="1.2"/>
<path d="M367 365.8h1.3M367 356.42h1.3M367 347.04h1.3M367 337.66h1.3M367 328.28h1.3M367 318.9h1.3M367 309.52h1.3M367 300.14h1.3M367 290.76h1.3M367 281.38h1.3M367 272h1.3M370.8 367.4v1.2M418.73 367.4v1.2M466.66 367.4v1.2M514.58 367.4v1.2" stroke="#222" stroke-width="0.6"/>
<text transform="translate(365.2 365.8) rotate(-90) scale(0.86 1)" text-anchor="middle" font-size="5.4">0</text>
<text transform="translate(365.2 356.42) rotate(-90) scale(0.86 1)" text-anchor="middle" font-size="5.4">10</text>
<text transform="translate(365.2 347.04) rotate(-90) scale(0.86 1)" text-anchor="middle" font-size="5.4">20</text>
<text transform="translate(365.2 337.66) rotate(-90) scale(0.86 1)" text-anchor="middle" font-size="5.4">30</text>
<text transform="translate(365.2 328.28) rotate(-90) scale(0.86 1)" text-anchor="middle" font-size="5.4">40</text>
<text transform="translate(365.2 318.9) rotate(-90) scale(0.86 1)" text-anchor="middle" font-size="5.4">50</text>
<text transform="translate(365.2 309.52) rotate(-90) scale(0.86 1)" text-anchor="middle" font-size="5.4">60</text>
<text transform="translate(365.2 300.14) rotate(-90) scale(0.86 1)" text-anchor="middle" font-size="5.4">70</text>
<text transform="translate(365.2 290.76) rotate(-90) scale(0.86 1)" text-anchor="middle" font-size="5.4">80</text>
<text transform="translate(365.2 281.38) rotate(-90) scale(0.86 1)" text-anchor="middle" font-size="5.4">90</text>
<text transform="translate(365.2 272) rotate(-90) scale(0.86 1)" text-anchor="middle" font-size="5.4">100</text>
<text transform="translate(369.8 375.4) scale(0.86 1)" text-anchor="middle" font-size="5.4">0</text>
<text transform="translate(417.73 375.4) scale(0.86 1)" text-anchor="middle" font-size="5.4">12</text>
<text transform="translate(465.66 375.4) scale(0.86 1)" text-anchor="middle" font-size="5.4">24</text>
<text transform="translate(513.58 375.4) scale(0.86 1)" text-anchor="middle" font-size="5.4">36</text>
<text transform="translate(443.8 380.2) scale(0.9 1)" text-anchor="middle" font-size="6.4">months</text>
<text transform="translate(358.1 319.8) rotate(-90)" text-anchor="middle" font-size="5.9">Pain</text>
<path d="M371.4 309.73V319.65M372.3 306.46V318.99M383.38 327.59V338.81M384.28 326.47V337.32M395.36 334.98V345.83M396.26 328.81V340.96M407.35 334.33V346.48M408.25 328.81V340.96M419.33 332.27V345.36M420.23 332.27V345.36M431.31 334.42V348.07M432.21 328.81V341.9M443.29 330.02V348.16M444.19 329.18V342.09M455.27 328.43V348.63M456.17 326.85V342.74M467.26 324.6V345.17M468.16 324.6V345.17M479.24 327.22V348.91M480.14 324.13V343.39M491.22 325.72V347.23M492.12 325.72V347.23M503.2 323.11V348.91M504.1 331.71V350.97M515.18 328.43V353.31M516.08 335.73V356.67" stroke="#6a6a6a" stroke-width="1.0" fill="none"/>
<path d="M370.15 309.73h2.5M370.15 319.65h2.5M371.05 306.46h2.5M371.05 318.99h2.5M382.13 327.59h2.5M382.13 338.81h2.5M383.03 326.47h2.5M383.03 337.32h2.5M394.11 334.98h2.5M394.11 345.83h2.5M395.01 328.81h2.5M395.01 340.96h2.5M406.1 334.33h2.5M406.1 346.48h2.5M407 328.81h2.5M407 340.96h2.5M418.08 332.27h2.5M418.08 345.36h2.5M418.98 332.27h2.5M418.98 345.36h2.5M430.06 334.42h2.5M430.06 348.07h2.5M430.96 328.81h2.5M430.96 341.9h2.5M442.04 330.02h2.5M442.04 348.16h2.5M442.94 329.18h2.5M442.94 342.09h2.5M454.02 328.43h2.5M454.02 348.63h2.5M454.92 326.85h2.5M454.92 342.74h2.5M466.01 324.6h2.5M466.01 345.17h2.5M466.91 324.6h2.5M466.91 345.17h2.5M477.99 327.22h2.5M477.99 348.91h2.5M478.89 324.13h2.5M478.89 343.39h2.5M489.97 325.72h2.5M489.97 347.23h2.5M490.87 325.72h2.5M490.87 347.23h2.5M501.95 323.11h2.5M501.95 348.91h2.5M502.85 331.71h2.5M502.85 350.97h2.5M513.93 328.43h2.5M513.93 353.31h2.5M514.83 335.73h2.5M514.83 356.67h2.5" stroke="#333" stroke-width="0.9" fill="none"/>
<path d="M372.3 312.73L384.28 331.89L396.26 334.89L408.25 334.89L420.23 338.81L432.21 335.35L444.19 335.63L456.17 334.79L468.16 334.89L480.14 333.76L492.12 336.48L504.1 341.34L516.08 346.2" fill="none" stroke="#222" stroke-width="0.9" stroke-dasharray="2,1.2"/>
<path d="M371.4 314.69L383.38 333.2L395.36 340.4L407.35 340.4L419.33 338.81L431.31 341.24L443.29 339.09L455.27 338.53L467.26 334.89L479.24 338.07L491.22 336.48L503.2 336.01L515.18 340.87" fill="none" stroke="#111" stroke-width="1.0"/>
<path d="M370.25 313.54h2.3v2.3h-2.3zM371.15 311.58h2.3v2.3h-2.3zM382.23 332.05h2.3v2.3h-2.3zM383.13 330.74h2.3v2.3h-2.3zM394.21 339.25h2.3v2.3h-2.3zM395.11 333.74h2.3v2.3h-2.3zM406.2 339.25h2.3v2.3h-2.3zM407.1 333.74h2.3v2.3h-2.3zM418.18 337.66h2.3v2.3h-2.3zM419.08 337.66h2.3v2.3h-2.3zM430.16 340.09h2.3v2.3h-2.3zM431.06 334.2h2.3v2.3h-2.3zM442.14 337.94h2.3v2.3h-2.3zM443.04 334.48h2.3v2.3h-2.3zM454.12 337.38h2.3v2.3h-2.3zM455.02 333.64h2.3v2.3h-2.3zM466.11 333.74h2.3v2.3h-2.3zM467.01 333.74h2.3v2.3h-2.3zM478.09 336.92h2.3v2.3h-2.3zM478.99 332.61h2.3v2.3h-2.3zM490.07 335.33h2.3v2.3h-2.3zM490.97 335.33h2.3v2.3h-2.3zM502.05 334.86h2.3v2.3h-2.3zM502.95 340.19h2.3v2.3h-2.3zM514.03 339.72h2.3v2.3h-2.3zM514.93 345.05h2.3v2.3h-2.3z" fill="#000"/>
<path d="M16.1 390.3V488.9H166.6" fill="none" stroke="#222" stroke-width="1.2"/>
<path d="M14.8 487.1h1.3M14.8 477.77h1.3M14.8 468.44h1.3M14.8 459.11h1.3M14.8 449.78h1.3M14.8 440.45h1.3M14.8 431.12h1.3M14.8 421.79h1.3M14.8 412.46h1.3M14.8 403.13h1.3M14.8 393.8h1.3M19 488.9v1.2M66.66 488.9v1.2M114.33 488.9v1.2M161.99 488.9v1.2" stroke="#222" stroke-width="0.6"/>
<text transform="translate(13 487.1) rotate(-90) scale(0.86 1)" text-anchor="middle" font-size="5.4">0</text>
<text transform="translate(13 477.77) rotate(-90) scale(0.86 1)" text-anchor="middle" font-size="5.4">10</text>
<text transform="translate(13 468.44) rotate(-90) scale(0.86 1)" text-anchor="middle" font-size="5.4">20</text>
<text transform="translate(13 459.11) rotate(-90) scale(0.86 1)" text-anchor="middle" font-size="5.4">30</text>
<text transform="translate(13 449.78) rotate(-90) scale(0.86 1)" text-anchor="middle" font-size="5.4">40</text>
<text transform="translate(13 440.45) rotate(-90) scale(0.86 1)" text-anchor="middle" font-size="5.4">50</text>
<text transform="translate(13 431.12) rotate(-90) scale(0.86 1)" text-anchor="middle" font-size="5.4">60</text>
<text transform="translate(13 421.79) rotate(-90) scale(0.86 1)" text-anchor="middle" font-size="5.4">70</text>
<text transform="translate(13 412.46) rotate(-90) scale(0.86 1)" text-anchor="middle" font-size="5.4">80</text>
<text transform="translate(13 403.13) rotate(-90) scale(0.86 1)" text-anchor="middle" font-size="5.4">90</text>
<text transform="translate(13 393.8) rotate(-90) scale(0.86 1)" text-anchor="middle" font-size="5.4">100</text>
<text transform="translate(18 496.9) scale(0.86 1)" text-anchor="middle" font-size="5.4">0</text>
<text transform="translate(65.66 496.9) scale(0.86 1)" text-anchor="middle" font-size="5.4">12</text>
<text transform="translate(113.33 496.9) scale(0.86 1)" text-anchor="middle" font-size="5.4">24</text>
<text transform="translate(160.99 496.9) scale(0.86 1)" text-anchor="middle" font-size="5.4">36</text>
<text transform="translate(91.6 501.7) scale(0.9 1)" text-anchor="middle" font-size="6.4">months</text>
<text transform="translate(5.9 441.3) rotate(-90)" text-anchor="middle" font-size="5.9">Dyspnoea</text>
<path d="M19.6 449.36V459.83M20.5 448.99V459.46M31.52 448.61V458.9M32.42 448.61V458.9M43.43 451.04V463.2M44.33 450.76V462.92M55.35 450.67V463.01M56.25 450.67V463.01M67.26 455.25V467.22M68.16 454.78V466.75M79.18 453.38V471.15M80.08 452.63V465.72M91.1 455.53V471.24M92 451.23V466.94M103.01 443.38V465.07M103.91 449.55V466M114.93 449.64V470.02M115.83 442.25V462.26M126.84 445.62V469.56M127.74 444.41V464.04M138.76 451.98V470.87M139.66 450.86V460.77M150.68 441.79V465.54M151.58 448.24V467.31M162.59 446.74V471.43M163.49 456.28V477.41" stroke="#6a6a6a" stroke-width="1.0" fill="none"/>
<path d="M18.35 449.36h2.5M18.35 459.83h2.5M19.25 448.99h2.5M19.25 459.46h2.5M30.27 448.61h2.5M30.27 458.9h2.5M31.17 448.61h2.5M31.17 458.9h2.5M42.18 451.04h2.5M42.18 463.2h2.5M43.08 450.76h2.5M43.08 462.92h2.5M54.1 450.67h2.5M54.1 463.01h2.5M55 450.67h2.5M55 463.01h2.5M66.01 455.25h2.5M66.01 467.22h2.5M66.91 454.78h2.5M66.91 466.75h2.5M77.93 453.38h2.5M77.93 471.15h2.5M78.83 452.63h2.5M78.83 465.72h2.5M89.85 455.53h2.5M89.85 471.24h2.5M90.75 451.23h2.5M90.75 466.94h2.5M101.76 443.38h2.5M101.76 465.07h2.5M102.66 449.55h2.5M102.66 466h2.5M113.68 449.64h2.5M113.68 470.02h2.5M114.58 442.25h2.5M114.58 462.26h2.5M125.59 445.62h2.5M125.59 469.56h2.5M126.49 444.41h2.5M126.49 464.04h2.5M137.51 451.98h2.5M137.51 470.87h2.5M138.41 450.86h2.5M138.41 460.77h2.5M149.43 441.79h2.5M149.43 465.54h2.5M150.33 448.24h2.5M150.33 467.31h2.5M161.34 446.74h2.5M161.34 471.43h2.5M162.24 456.28h2.5M162.24 477.41h2.5" stroke="#333" stroke-width="0.9" fill="none"/>
<path d="M20.5 454.22L32.42 453.76L44.33 456.84L56.25 456.84L68.16 460.77L80.08 459.18L92 459.08L103.91 457.78L115.83 452.26L127.74 454.22L139.66 455.81L151.58 457.78L163.49 466.85" fill="none" stroke="#222" stroke-width="0.9" stroke-dasharray="2,1.2"/>
<path d="M19.6 454.6L31.52 453.76L43.43 457.12L55.35 456.84L67.26 461.24L79.18 462.26L91.1 463.39L103.01 454.22L114.93 459.83L126.84 457.59L138.76 461.42L150.68 453.66L162.59 459.08" fill="none" stroke="#111" stroke-width="1.0"/>
<path d="M18.45 453.45h2.3v2.3h-2.3zM19.35 453.07h2.3v2.3h-2.3zM30.37 452.61h2.3v2.3h-2.3zM31.27 452.61h2.3v2.3h-2.3zM42.28 455.97h2.3v2.3h-2.3zM43.18 455.69h2.3v2.3h-2.3zM54.2 455.69h2.3v2.3h-2.3zM55.1 455.69h2.3v2.3h-2.3zM66.11 460.09h2.3v2.3h-2.3zM67.01 459.62h2.3v2.3h-2.3zM78.03 461.11h2.3v2.3h-2.3zM78.93 458.03h2.3v2.3h-2.3zM89.95 462.24h2.3v2.3h-2.3zM90.85 457.94h2.3v2.3h-2.3zM101.86 453.07h2.3v2.3h-2.3zM102.76 456.63h2.3v2.3h-2.3zM113.78 458.68h2.3v2.3h-2.3zM114.68 451.11h2.3v2.3h-2.3zM125.69 456.44h2.3v2.3h-2.3zM126.59 453.07h2.3v2.3h-2.3zM137.61 460.27h2.3v2.3h-2.3zM138.51 454.66h2.3v2.3h-2.3zM149.53 452.51h2.3v2.3h-2.3zM150.43 456.63h2.3v2.3h-2.3zM161.44 457.94h2.3v2.3h-2.3zM162.34 465.7h2.3v2.3h-2.3z" fill="#000"/>
<path d="M192.4 390.3V488.9H342.6" fill="none" stroke="#222" stroke-width="1.2"/>
<path d="M191.1 487.1h1.3M191.1 477.77h1.3M191.1 468.44h1.3M191.1 459.11h1.3M191.1 449.78h1.3M191.1 440.45h1.3M191.1 431.12h1.3M191.1 421.79h1.3M191.1 412.46h1.3M191.1 403.13h1.3M191.1 393.8h1.3M195 488.9v1.2M242.64 488.9v1.2M290.28 488.9v1.2M337.92 488.9v1.2" stroke="#222" stroke-width="0.6"/>
<text transform="translate(189.3 487.1) rotate(-90) scale(0.86 1)" text-anchor="middle" font-size="5.4">0</text>
<text transform="translate(189.3 477.77) rotate(-90) scale(0.86 1)" text-anchor="middle" font-size="5.4">10</text>
<text transform="translate(189.3 468.44) rotate(-90) scale(0.86 1)" text-anchor="middle" font-size="5.4">20</text>
<text transform="translate(189.3 459.11) rotate(-90) scale(0.86 1)" text-anchor="middle" font-size="5.4">30</text>
<text transform="translate(189.3 449.78) rotate(-90) scale(0.86 1)" text-anchor="middle" font-size="5.4">40</text>
<text transform="translate(189.3 440.45) rotate(-90) scale(0.86 1)" text-anchor="middle" font-size="5.4">50</text>
<text transform="translate(189.3 431.12) rotate(-90) scale(0.86 1)" text-anchor="middle" font-size="5.4">60</text>
<text transform="translate(189.3 421.79) rotate(-90) scale(0.86 1)" text-anchor="middle" font-size="5.4">70</text>
<text transform="translate(189.3 412.46) rotate(-90) scale(0.86 1)" text-anchor="middle" font-size="5.4">80</text>
<text transform="translate(189.3 403.13) rotate(-90) scale(0.86 1)" text-anchor="middle" font-size="5.4">90</text>
<text transform="translate(189.3 393.8) rotate(-90) scale(0.86 1)" text-anchor="middle" font-size="5.4">100</text>
<text transform="translate(194 496.9) scale(0.86 1)" text-anchor="middle" font-size="5.4">0</text>
<text transform="translate(241.64 496.9) scale(0.86 1)" text-anchor="middle" font-size="5.4">12</text>
<text transform="translate(289.28 496.9) scale(0.86 1)" text-anchor="middle" font-size="5.4">24</text>
<text transform="translate(336.92 496.9) scale(0.86 1)" text-anchor="middle" font-size="5.4">36</text>
<text transform="translate(267.9 501.7) scale(0.9 1)" text-anchor="middle" font-size="6.4">months</text>
<text transform="translate(182.2 441.3) rotate(-90)" text-anchor="middle" font-size="5.9">Insomnia</text>
<path d="M195.6 454.69V463.67M196.5 454.04V463.01M207.51 467.78V476.94M208.41 465.44V474.61M219.42 463.76V474.04M220.32 462.82V473.11M231.33 467.97V478.81M232.23 463.39V473.67M243.24 467.03V479.19M244.14 467.69V479.84M255.15 469.65V482.74M256.05 467.69V480.78M267.06 469.09V482.18M267.96 466.19V475.91M278.97 462.73V478.63M279.87 462.26V478.16M290.88 468.15V481.24M291.78 468.15V481.24M302.79 463.11V485.55M303.69 461.8V484.24M314.7 465.35V484.05M315.6 464.13V482.83M326.61 470.49V486.2M327.51 469.18V486.01M338.52 464.04V484.61M339.42 464.04V484.61" stroke="#6a6a6a" stroke-width="1.0" fill="none"/>
<path d="M194.35 454.69h2.5M194.35 463.67h2.5M195.25 454.04h2.5M195.25 463.01h2.5M206.26 467.78h2.5M206.26 476.94h2.5M207.16 465.44h2.5M207.16 474.61h2.5M218.17 463.76h2.5M218.17 474.04h2.5M219.07 462.82h2.5M219.07 473.11h2.5M230.08 467.97h2.5M230.08 478.81h2.5M230.98 463.39h2.5M230.98 473.67h2.5M241.99 467.03h2.5M241.99 479.19h2.5M242.89 467.69h2.5M242.89 479.84h2.5M253.9 469.65h2.5M253.9 482.74h2.5M254.8 467.69h2.5M254.8 480.78h2.5M265.81 469.09h2.5M265.81 482.18h2.5M266.71 466.19h2.5M266.71 475.91h2.5M277.72 462.73h2.5M277.72 478.63h2.5M278.62 462.26h2.5M278.62 478.16h2.5M289.63 468.15h2.5M289.63 481.24h2.5M290.53 468.15h2.5M290.53 481.24h2.5M301.54 463.11h2.5M301.54 485.55h2.5M302.44 461.8h2.5M302.44 484.24h2.5M313.45 465.35h2.5M313.45 484.05h2.5M314.35 464.13h2.5M314.35 482.83h2.5M325.36 470.49h2.5M325.36 486.2h2.5M326.26 469.18h2.5M326.26 486.01h2.5M337.27 464.04h2.5M337.27 484.61h2.5M338.17 464.04h2.5M338.17 484.61h2.5" stroke="#333" stroke-width="0.9" fill="none"/>
<path d="M196.5 458.52L208.41 470.02L220.32 467.97L232.23 468.53L244.14 473.76L256.05 474.23L267.96 471.05L279.87 470.21L291.78 474.7L303.69 473.02L315.6 473.48L327.51 477.6L339.42 474.33" fill="none" stroke="#222" stroke-width="0.9" stroke-dasharray="2,1.2"/>
<path d="M195.6 459.18L207.51 472.36L219.42 468.9L231.33 473.39L243.24 473.11L255.15 476.2L267.06 475.63L278.97 470.68L290.88 474.7L302.79 474.33L314.7 474.7L326.61 478.91L338.52 474.33" fill="none" stroke="#111" stroke-width="1.0"/>
<path d="M194.45 458.03h2.3v2.3h-2.3zM195.35 457.37h2.3v2.3h-2.3zM206.36 471.21h2.3v2.3h-2.3zM207.26 468.87h2.3v2.3h-2.3zM218.27 467.75h2.3v2.3h-2.3zM219.17 466.82h2.3v2.3h-2.3zM230.18 472.24h2.3v2.3h-2.3zM231.08 467.38h2.3v2.3h-2.3zM242.09 471.96h2.3v2.3h-2.3zM242.99 472.61h2.3v2.3h-2.3zM254 475.05h2.3v2.3h-2.3zM254.9 473.08h2.3v2.3h-2.3zM265.91 474.48h2.3v2.3h-2.3zM266.81 469.9h2.3v2.3h-2.3zM277.82 469.53h2.3v2.3h-2.3zM278.72 469.06h2.3v2.3h-2.3zM289.73 473.55h2.3v2.3h-2.3zM290.63 473.55h2.3v2.3h-2.3zM301.64 473.18h2.3v2.3h-2.3zM302.54 471.87h2.3v2.3h-2.3zM313.55 473.55h2.3v2.3h-2.3zM314.45 472.33h2.3v2.3h-2.3zM325.46 477.76h2.3v2.3h-2.3zM326.36 476.45h2.3v2.3h-2.3zM337.37 473.18h2.3v2.3h-2.3zM338.27 473.18h2.3v2.3h-2.3z" fill="#000"/>
<path d="M368.3 390.3V488.9H522" fill="none" stroke="#222" stroke-width="1.2"/>
<path d="M367 487.1h1.3M367 477.77h1.3M367 468.44h1.3M367 459.11h1.3M367 449.78h1.3M367 440.45h1.3M367 431.12h1.3M367 421.79h1.3M367 412.46h1.3M367 403.13h1.3M367 393.8h1.3M370.8 488.9v1.2M418.73 488.9v1.2M466.66 488.9v1.2M514.58 488.9v1.2" stroke="#222" stroke-width="0.6"/>
<text transform="translate(365.2 487.1) rotate(-90) scale(0.86 1)" text-anchor="middle" font-size="5.4">0</text>
<text transform="translate(365.2 477.77) rotate(-90) scale(0.86 1)" text-anchor="middle" font-size="5.4">10</text>
<text transform="translate(365.2 468.44) rotate(-90) scale(0.86 1)" text-anchor="middle" font-size="5.4">20</text>
<text transform="translate(365.2 459.11) rotate(-90) scale(0.86 1)" text-anchor="middle" font-size="5.4">30</text>
<text transform="translate(365.2 449.78) rotate(-90) scale(0.86 1)" text-anchor="middle" font-size="5.4">40</text>
<text transform="translate(365.2 440.45) rotate(-90) scale(0.86 1)" text-anchor="middle" font-size="5.4">50</text>
<text transform="translate(365.2 431.12) rotate(-90) scale(0.86 1)" text-anchor="middle" font-size="5.4">60</text>
<text transform="translate(365.2 421.79) rotate(-90) scale(0.86 1)" text-anchor="middle" font-size="5.4">70</text>
<text transform="translate(365.2 412.46) rotate(-90) scale(0.86 1)" text-anchor="middle" font-size="5.4">80</text>
<text transform="translate(365.2 403.13) rotate(-90) scale(0.86 1)" text-anchor="middle" font-size="5.4">90</text>
<text transform="translate(365.2 393.8) rotate(-90) scale(0.86 1)" text-anchor="middle" font-size="5.4">100</text>
<text transform="translate(369.8 496.9) scale(0.86 1)" text-anchor="middle" font-size="5.4">0</text>
<text transform="translate(417.73 496.9) scale(0.86 1)" text-anchor="middle" font-size="5.4">12</text>
<text transform="translate(465.66 496.9) scale(0.86 1)" text-anchor="middle" font-size="5.4">24</text>
<text transform="translate(513.58 496.9) scale(0.86 1)" text-anchor="middle" font-size="5.4">36</text>
<text transform="translate(443.8 501.7) scale(0.9 1)" text-anchor="middle" font-size="6.4">months</text>
<text transform="translate(358.1 441.3) rotate(-90)" text-anchor="middle" font-size="5.9">Appetite loss</text>
<path d="M371.4 450.76V460.67M372.3 452.73V462.64M383.38 453.1V465.26M384.28 459.74V470.02M395.36 463.85V475.07M396.26 460.02V470.87M407.35 472.36V481.52M408.25 467.41V477.88M419.33 472.27V482.18M420.23 471.99V481.9M431.31 472.74V484.89M432.21 469.28V481.43M443.29 469.37V483.39M444.19 468.9V482.93M455.27 462.82V481.15M456.17 463.11V481.43M467.26 469.37V484.33M468.16 468.81V483.77M479.24 459.74V481.62M480.14 465.63V482.83M491.22 464.23V481.99M492.12 472.74V484.89M503.2 472.36V486.2M504.1 467.13V483.96M515.18 464.23V486.2M516.08 485.08V486.2" stroke="#6a6a6a" stroke-width="1.0" fill="none"/>
<path d="M370.15 450.76h2.5M370.15 460.67h2.5M371.05 452.73h2.5M371.05 462.64h2.5M382.13 453.1h2.5M382.13 465.26h2.5M383.03 459.74h2.5M383.03 470.02h2.5M394.11 463.85h2.5M394.11 475.07h2.5M395.01 460.02h2.5M395.01 470.87h2.5M406.1 472.36h2.5M406.1 481.52h2.5M407 467.41h2.5M407 477.88h2.5M418.08 472.27h2.5M418.08 482.18h2.5M418.98 471.99h2.5M418.98 481.9h2.5M430.06 472.74h2.5M430.06 484.89h2.5M430.96 469.28h2.5M430.96 481.43h2.5M442.04 469.37h2.5M442.04 483.39h2.5M442.94 468.9h2.5M442.94 482.93h2.5M454.02 462.82h2.5M454.02 481.15h2.5M454.92 463.11h2.5M454.92 481.43h2.5M466.01 469.37h2.5M466.01 484.33h2.5M466.91 468.81h2.5M466.91 483.77h2.5M477.99 459.74h2.5M477.99 481.62h2.5M478.89 465.63h2.5M478.89 482.83h2.5M489.97 464.23h2.5M489.97 481.99h2.5M490.87 472.74h2.5M490.87 484.89h2.5M501.95 472.36h2.5M501.95 486.2h2.5M502.85 467.13h2.5M502.85 483.96h2.5M513.93 464.23h2.5M513.93 486.2h2.5M514.83 485.08h2.5M514.83 486.2h2.5" stroke="#333" stroke-width="0.9" fill="none"/>
<path d="M372.3 457.68L384.28 464.88L396.26 465.44L408.25 472.64L420.23 476.94L432.21 475.35L444.19 475.91L456.17 472.27L468.16 476.29L480.14 474.23L492.12 478.81L504.1 475.54L516.08 486.01" fill="none" stroke="#222" stroke-width="0.9" stroke-dasharray="2,1.2"/>
<path d="M371.4 455.72L383.38 459.18L395.36 469.46L407.35 476.94L419.33 477.22L431.31 478.81L443.29 476.38L455.27 471.99L467.26 476.85L479.24 470.68L491.22 473.11L503.2 479.56L515.18 475.91" fill="none" stroke="#111" stroke-width="1.0"/>
<path d="M370.25 454.57h2.3v2.3h-2.3zM371.15 456.53h2.3v2.3h-2.3zM382.23 458.03h2.3v2.3h-2.3zM383.13 463.73h2.3v2.3h-2.3zM394.21 468.31h2.3v2.3h-2.3zM395.11 464.29h2.3v2.3h-2.3zM406.2 475.79h2.3v2.3h-2.3zM407.1 471.49h2.3v2.3h-2.3zM418.18 476.07h2.3v2.3h-2.3zM419.08 475.79h2.3v2.3h-2.3zM430.16 477.66h2.3v2.3h-2.3zM431.06 474.2h2.3v2.3h-2.3zM442.14 475.23h2.3v2.3h-2.3zM443.04 474.76h2.3v2.3h-2.3zM454.12 470.84h2.3v2.3h-2.3zM455.02 471.12h2.3v2.3h-2.3zM466.11 475.7h2.3v2.3h-2.3zM467.01 475.14h2.3v2.3h-2.3zM478.09 469.53h2.3v2.3h-2.3zM478.99 473.08h2.3v2.3h-2.3zM490.07 471.96h2.3v2.3h-2.3zM490.97 477.66h2.3v2.3h-2.3zM502.05 478.41h2.3v2.3h-2.3zM502.95 474.39h2.3v2.3h-2.3zM514.03 474.76h2.3v2.3h-2.3zM514.93 484.86h2.3v2.3h-2.3z" fill="#000"/>
<path d="M16.1 512.2V610.3H166.6" fill="none" stroke="#222" stroke-width="1.2"/>
<path d="M14.8 608.5h1.3M14.8 599.19h1.3M14.8 589.88h1.3M14.8 580.57h1.3M14.8 571.26h1.3M14.8 561.95h1.3M14.8 552.64h1.3M14.8 543.33h1.3M14.8 534.02h1.3M14.8 524.71h1.3M14.8 515.4h1.3M19 610.3v1.2M66.66 610.3v1.2M114.33 610.3v1.2M161.99 610.3v1.2" stroke="#222" stroke-width="0.6"/>
<text transform="translate(13 608.5) rotate(-90) scale(0.86 1)" text-anchor="middle" font-size="5.4">0</text>
<text transform="translate(13 599.19) rotate(-90) scale(0.86 1)" text-anchor="middle" font-size="5.4">10</text>
<text transform="translate(13 589.88) rotate(-90) scale(0.86 1)" text-anchor="middle" font-size="5.4">20</text>
<text transform="translate(13 580.57) rotate(-90) scale(0.86 1)" text-anchor="middle" font-size="5.4">30</text>
<text transform="translate(13 571.26) rotate(-90) scale(0.86 1)" text-anchor="middle" font-size="5.4">40</text>
<text transform="translate(13 561.95) rotate(-90) scale(0.86 1)" text-anchor="middle" font-size="5.4">50</text>
<text transform="translate(13 552.64) rotate(-90) scale(0.86 1)" text-anchor="middle" font-size="5.4">60</text>
<text transform="translate(13 543.33) rotate(-90) scale(0.86 1)" text-anchor="middle" font-size="5.4">70</text>
<text transform="translate(13 534.02) rotate(-90) scale(0.86 1)" text-anchor="middle" font-size="5.4">80</text>
<text transform="translate(13 524.71) rotate(-90) scale(0.86 1)" text-anchor="middle" font-size="5.4">90</text>
<text transform="translate(13 515.4) rotate(-90) scale(0.86 1)" text-anchor="middle" font-size="5.4">100</text>
<text transform="translate(18 618.3) scale(0.86 1)" text-anchor="middle" font-size="5.4">0</text>
<text transform="translate(65.66 618.3) scale(0.86 1)" text-anchor="middle" font-size="5.4">12</text>
<text transform="translate(113.33 618.3) scale(0.86 1)" text-anchor="middle" font-size="5.4">24</text>
<text transform="translate(160.99 618.3) scale(0.86 1)" text-anchor="middle" font-size="5.4">36</text>
<text transform="translate(91.6 623.1) scale(0.9 1)" text-anchor="middle" font-size="6.4">months</text>
<text transform="translate(5.9 562.7) rotate(-90)" text-anchor="middle" font-size="5.9">Constipation</text>
<path d="M19.6 576.02V586.3M20.5 574.05V584.34M31.52 560.31V574.15M32.42 581.53V591.82M43.43 565.45V579.66M44.33 585.93V595.65M55.35 565.08V581.72M56.25 583.4V595.18M67.26 564.14V582.65M68.16 586.3V597.52M79.18 568.07V586.21M80.08 587.33V597.99M91.1 556.01V579.94M92 586.77V598.36M103.01 559.09V583.03M103.91 584.24V598.64M114.93 561.06V585.74M115.83 582.84V599.11M126.84 559V584.62M127.74 579.76V597.71M138.76 562.08V590.7M139.66 586.77V602.66M150.68 551.15V580.5M151.58 578.45V599.02M162.59 557.04V591.63M163.49 589.39V605.66" stroke="#6a6a6a" stroke-width="1.0" fill="none"/>
<path d="M18.35 576.02h2.5M18.35 586.3h2.5M19.25 574.05h2.5M19.25 584.34h2.5M30.27 560.31h2.5M30.27 574.15h2.5M31.17 581.53h2.5M31.17 591.82h2.5M42.18 565.45h2.5M42.18 579.66h2.5M43.08 585.93h2.5M43.08 595.65h2.5M54.1 565.08h2.5M54.1 581.72h2.5M55 583.4h2.5M55 595.18h2.5M66.01 564.14h2.5M66.01 582.65h2.5M66.91 586.3h2.5M66.91 597.52h2.5M77.93 568.07h2.5M77.93 586.21h2.5M78.83 587.33h2.5M78.83 597.99h2.5M89.85 556.01h2.5M89.85 579.94h2.5M90.75 586.77h2.5M90.75 598.36h2.5M101.76 559.09h2.5M101.76 583.03h2.5M102.66 584.24h2.5M102.66 598.64h2.5M113.68 561.06h2.5M113.68 585.74h2.5M114.58 582.84h2.5M114.58 599.11h2.5M125.59 559h2.5M125.59 584.62h2.5M126.49 579.76h2.5M126.49 597.71h2.5M137.51 562.08h2.5M137.51 590.7h2.5M138.41 586.77h2.5M138.41 602.66h2.5M149.43 551.15h2.5M149.43 580.5h2.5M150.33 578.45h2.5M150.33 599.02h2.5M161.34 557.04h2.5M161.34 591.63h2.5M162.24 589.39h2.5M162.24 605.66h2.5" stroke="#333" stroke-width="0.9" fill="none"/>
<path d="M20.5 579.2L32.42 586.68L44.33 590.79L56.25 589.29L68.16 591.91L80.08 592.66L92 592.57L103.91 591.44L115.83 590.98L127.74 588.73L139.66 594.72L151.58 588.73L163.49 597.52" fill="none" stroke="#222" stroke-width="0.9" stroke-dasharray="2,1.2"/>
<path d="M19.6 581.16L31.52 567.23L43.43 572.56L55.35 573.4L67.26 573.4L79.18 577.14L91.1 567.98L103.01 571.06L114.93 573.4L126.84 571.81L138.76 576.39L150.68 565.82L162.59 574.33" fill="none" stroke="#111" stroke-width="1.0"/>
<path d="M18.45 580.01h2.3v2.3h-2.3zM19.35 578.05h2.3v2.3h-2.3zM30.37 566.08h2.3v2.3h-2.3zM31.27 585.53h2.3v2.3h-2.3zM42.28 571.41h2.3v2.3h-2.3zM43.18 589.64h2.3v2.3h-2.3zM54.2 572.25h2.3v2.3h-2.3zM55.1 588.14h2.3v2.3h-2.3zM66.11 572.25h2.3v2.3h-2.3zM67.01 590.76h2.3v2.3h-2.3zM78.03 575.99h2.3v2.3h-2.3zM78.93 591.51h2.3v2.3h-2.3zM89.95 566.83h2.3v2.3h-2.3zM90.85 591.42h2.3v2.3h-2.3zM101.86 569.91h2.3v2.3h-2.3zM102.76 590.29h2.3v2.3h-2.3zM113.78 572.25h2.3v2.3h-2.3zM114.68 589.83h2.3v2.3h-2.3zM125.69 570.66h2.3v2.3h-2.3zM126.59 587.58h2.3v2.3h-2.3zM137.61 575.24h2.3v2.3h-2.3zM138.51 593.57h2.3v2.3h-2.3zM149.53 564.67h2.3v2.3h-2.3zM150.43 587.58h2.3v2.3h-2.3zM161.44 573.18h2.3v2.3h-2.3zM162.34 596.37h2.3v2.3h-2.3z" fill="#000"/>
<path d="M192.4 512.2V610.3H342.6" fill="none" stroke="#222" stroke-width="1.2"/>
<path d="M191.1 608.5h1.3M191.1 599.19h1.3M191.1 589.88h1.3M191.1 580.57h1.3M191.1 571.26h1.3M191.1 561.95h1.3M191.1 552.64h1.3M191.1 543.33h1.3M191.1 534.02h1.3M191.1 524.71h1.3M191.1 515.4h1.3M195 610.3v1.2M242.64 610.3v1.2M290.28 610.3v1.2M337.92 610.3v1.2" stroke="#222" stroke-width="0.6"/>
<text transform="translate(189.3 608.5) rotate(-90) scale(0.86 1)" text-anchor="middle" font-size="5.4">0</text>
<text transform="translate(189.3 599.19) rotate(-90) scale(0.86 1)" text-anchor="middle" font-size="5.4">10</text>
<text transform="translate(189.3 589.88) rotate(-90) scale(0.86 1)" text-anchor="middle" font-size="5.4">20</text>
<text transform="translate(189.3 580.57) rotate(-90) scale(0.86 1)" text-anchor="middle" font-size="5.4">30</text>
<text transform="translate(189.3 571.26) rotate(-90) scale(0.86 1)" text-anchor="middle" font-size="5.4">40</text>
<text transform="translate(189.3 561.95) rotate(-90) scale(0.86 1)" text-anchor="middle" font-size="5.4">50</text>
<text transform="translate(189.3 552.64) rotate(-90) scale(0.86 1)" text-anchor="middle" font-size="5.4">60</text>
<text transform="translate(189.3 543.33) rotate(-90) scale(0.86 1)" text-anchor="middle" font-size="5.4">70</text>
<text transform="translate(189.3 534.02) rotate(-90) scale(0.86 1)" text-anchor="middle" font-size="5.4">80</text>
<text transform="translate(189.3 524.71) rotate(-90) scale(0.86 1)" text-anchor="middle" font-size="5.4">90</text>
<text transform="translate(189.3 515.4) rotate(-90) scale(0.86 1)" text-anchor="middle" font-size="5.4">100</text>
<text transform="translate(194 618.3) scale(0.86 1)" text-anchor="middle" font-size="5.4">0</text>
<text transform="translate(241.64 618.3) scale(0.86 1)" text-anchor="middle" font-size="5.4">12</text>
<text transform="translate(289.28 618.3) scale(0.86 1)" text-anchor="middle" font-size="5.4">24</text>
<text transform="translate(336.92 618.3) scale(0.86 1)" text-anchor="middle" font-size="5.4">36</text>
<text transform="translate(267.9 623.1) scale(0.9 1)" text-anchor="middle" font-size="6.4">months</text>
<text transform="translate(182.2 562.7) rotate(-90)" text-anchor="middle" font-size="5.9">Diarrhoea</text>
<path d="M195.6 593.41V601.45M196.5 592.19V600.23M207.51 594.9V602.01M208.41 588.17V596.4M219.42 598.92V604.16M220.32 588.83V597.43M231.33 601.17V605.1M232.23 589.2V598.36M243.24 601.17V605.1M244.14 593.78V601.64M255.15 599.49V605.1M256.05 590.32V600.42M267.06 599.86V606.22M267.96 591.54V600.89M278.97 599.67V605.1M279.87 588.26V601.36M290.88 599.67V605.1M291.78 587.7V602.85M302.79 598.27V605.56M303.69 590.42V603.51M314.7 589.48V604.44M315.6 589.01V603.97M326.61 594.16V607.25M327.51 594.81V607.9M338.52 596.4V606.31M339.42 586.3V605.38" stroke="#6a6a6a" stroke-width="1.0" fill="none"/>
<path d="M194.35 593.41h2.5M194.35 601.45h2.5M195.25 592.19h2.5M195.25 600.23h2.5M206.26 594.9h2.5M206.26 602.01h2.5M207.16 588.17h2.5M207.16 596.4h2.5M218.17 598.92h2.5M218.17 604.16h2.5M219.07 588.83h2.5M219.07 597.43h2.5M230.08 601.17h2.5M230.08 605.1h2.5M230.98 589.2h2.5M230.98 598.36h2.5M241.99 601.17h2.5M241.99 605.1h2.5M242.89 593.78h2.5M242.89 601.64h2.5M253.9 599.49h2.5M253.9 605.1h2.5M254.8 590.32h2.5M254.8 600.42h2.5M265.81 599.86h2.5M265.81 606.22h2.5M266.71 591.54h2.5M266.71 600.89h2.5M277.72 599.67h2.5M277.72 605.1h2.5M278.62 588.26h2.5M278.62 601.36h2.5M289.63 599.67h2.5M289.63 605.1h2.5M290.53 587.7h2.5M290.53 602.85h2.5M301.54 598.27h2.5M301.54 605.56h2.5M302.44 590.42h2.5M302.44 603.51h2.5M313.45 589.48h2.5M313.45 604.44h2.5M314.35 589.01h2.5M314.35 603.97h2.5M325.36 594.16h2.5M325.36 607.25h2.5M326.26 594.81h2.5M326.26 607.9h2.5M337.27 596.4h2.5M337.27 606.31h2.5M338.17 586.3h2.5M338.17 605.38h2.5" stroke="#333" stroke-width="0.9" fill="none"/>
<path d="M196.5 596.21L208.41 592.29L220.32 593.13L232.23 593.78L244.14 597.71L256.05 595.37L267.96 596.21L279.87 594.81L291.78 595.28L303.69 596.96L315.6 596.49L327.51 601.36L339.42 595.84" fill="none" stroke="#222" stroke-width="0.9" stroke-dasharray="2,1.2"/>
<path d="M195.6 597.43L207.51 598.46L219.42 601.54L231.33 603.13L243.24 603.13L255.15 602.29L267.06 603.04L278.97 602.38L290.88 602.38L302.79 601.92L314.7 596.96L326.61 600.7L338.52 601.36" fill="none" stroke="#111" stroke-width="1.0"/>
<path d="M194.45 596.28h2.3v2.3h-2.3zM195.35 595.06h2.3v2.3h-2.3zM206.36 597.31h2.3v2.3h-2.3zM207.26 591.14h2.3v2.3h-2.3zM218.27 600.39h2.3v2.3h-2.3zM219.17 591.98h2.3v2.3h-2.3zM230.18 601.98h2.3v2.3h-2.3zM231.08 592.63h2.3v2.3h-2.3zM242.09 601.98h2.3v2.3h-2.3zM242.99 596.56h2.3v2.3h-2.3zM254 601.14h2.3v2.3h-2.3zM254.9 594.22h2.3v2.3h-2.3zM265.91 601.89h2.3v2.3h-2.3zM266.81 595.06h2.3v2.3h-2.3zM277.82 601.23h2.3v2.3h-2.3zM278.72 593.66h2.3v2.3h-2.3zM289.73 601.23h2.3v2.3h-2.3zM290.63 594.13h2.3v2.3h-2.3zM301.64 600.77h2.3v2.3h-2.3zM302.54 595.81h2.3v2.3h-2.3zM313.55 595.81h2.3v2.3h-2.3zM314.45 595.34h2.3v2.3h-2.3zM325.46 599.55h2.3v2.3h-2.3zM326.36 600.21h2.3v2.3h-2.3zM337.37 600.21h2.3v2.3h-2.3zM338.27 594.69h2.3v2.3h-2.3z" fill="#000"/>
<path d="M81.9 15.5h12.5" stroke="#444" stroke-width="0.85"/>
<path d="M81.9 20.5h11.5" stroke="#444" stroke-width="0.85" stroke-dasharray="2,1"/>
<rect x="87.2" y="14.2" width="2.6" height="2.6" fill="#000"/>
<rect x="87.2" y="19.2" width="2.6" height="2.6" fill="#000"/>
<text x="96.2" y="16.8" font-size="3.6">ng+</text>
<text x="96.2" y="21.8" font-size="3.6">ng</text>
<path d="M80.4 271.2h12.5" stroke="#444" stroke-width="0.85"/>
<path d="M80.4 276.2h11.5" stroke="#444" stroke-width="0.85" stroke-dasharray="2,1"/>
<rect x="85.7" y="269.9" width="2.6" height="2.6" fill="#000"/>
<rect x="85.7" y="274.9" width="2.6" height="2.6" fill="#000"/>
<text x="94.7" y="272.5" font-size="3.6">ng+</text>
<text x="94.7" y="277.5" font-size="3.6">ng</text>
<path d="M139 444.4h1.6" stroke="#777" stroke-width="0.8"/>
<text x="3.8" y="8.3" font-size="12" font-weight="bold" style="fill:#000">A</text>
<text x="1.9" y="264.3" font-size="11.8" font-weight="bold" style="fill:#000">B</text>
</svg>
</body></html>
